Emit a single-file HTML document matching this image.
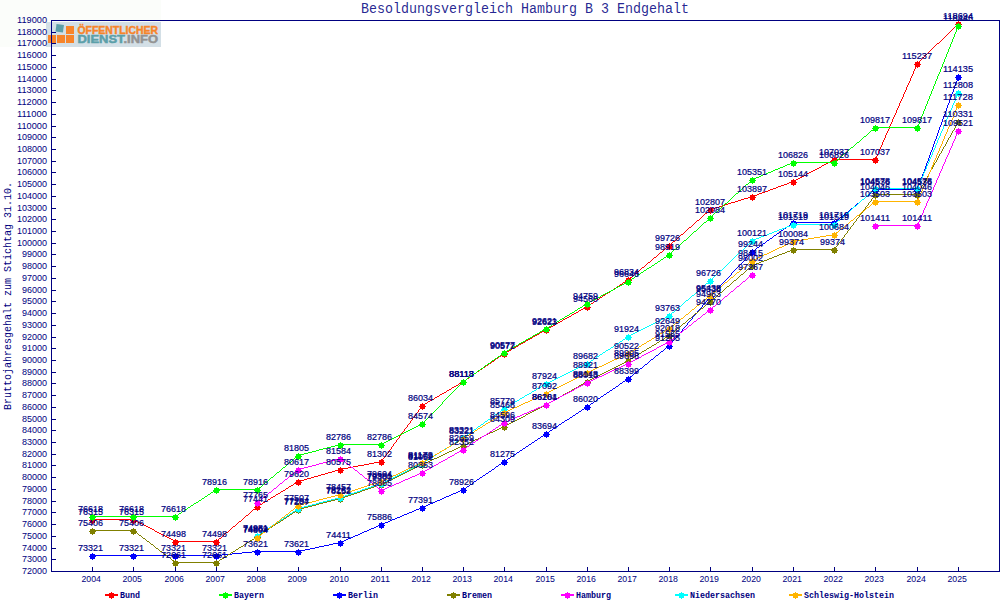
<!DOCTYPE html>
<html><head><meta charset="utf-8"><title>Besoldungsvergleich Hamburg B 3 Endgehalt</title>
<style>
html,body{margin:0;padding:0;background:#fff;width:1000px;height:600px;overflow:hidden}
svg{display:block}
.dl{font-family:'Liberation Sans', Arial, sans-serif;font-size:8.8px;fill:#000080;stroke:#000080;stroke-width:0.2px}
.tl{font-family:'Liberation Sans', Arial, sans-serif;font-size:8.8px;fill:#000080}
.lg{font-family:'Liberation Mono','DejaVu Sans Mono',monospace;font-size:9.4px;font-weight:bold;fill:#000080}
</style></head><body>
<svg width="1000" height="600" viewBox="0 0 1000 600">

<rect x="0" y="0" width="1000" height="600" fill="#fff"/>
<rect x="0" y="0" width="161" height="47" fill="#fbfdfa"/>
<g id="logo">
<rect x="46" y="22" width="115" height="25" fill="#d3dfe6"/>
<rect x="48" y="35" width="8" height="8" fill="#f7842a"/>
<rect x="57" y="35" width="8" height="8" fill="#f7842a"/>
<rect x="66" y="35" width="8" height="8" fill="#f7842a"/>
<rect x="66" y="26" width="8" height="8" fill="#f7842a"/>
<rect x="56" y="24.5" width="7.5" height="7.5" fill="#5b9fa9" transform="rotate(8 60 28)"/>
<text x="77.5" y="33.6" font-family="'Liberation Sans', sans-serif" font-weight="bold" font-size="10.4" fill="#f7842a" stroke="#f7842a" stroke-width="0.45" textLength="80.5" lengthAdjust="spacingAndGlyphs">ÖFFENTLICHER</text>
<text x="77.5" y="42.8" font-family="'Liberation Sans', sans-serif" font-weight="bold" font-size="10.2" stroke-width="0.45" textLength="80.5" lengthAdjust="spacingAndGlyphs"><tspan fill="#5b9fa9" stroke="#5b9fa9">DIENST</tspan><tspan fill="#939393" stroke="#939393">.INFO</tspan></text>
</g>
<path fill="#ff0000" shape-rendering="crispEdges" d="M958 23h1v1h-1zM957 24h1v1h-1zM956 25h1v1h-1zM955 26h1v1h-1zM954 27h1v1h-1zM953 28h1v1h-1zM952 29h1v1h-1zM951 30h1v1h-1zM950 31h1v1h-1zM949 32h1v1h-1zM948 33h1v1h-1zM947 34h1v1h-1zM946 35h1v1h-1zM945 36h1v1h-1zM944 37h1v1h-1zM943 38h1v1h-1zM942 39h1v1h-1zM941 40h1v1h-1zM940 41h1v1h-1zM939 42h1v1h-1zM937 43h2v1h-2zM936 44h1v1h-1zM935 45h1v1h-1zM934 46h1v1h-1zM933 47h1v1h-1zM932 48h1v1h-1zM931 49h1v1h-1zM930 50h1v1h-1zM929 51h1v1h-1zM928 52h1v1h-1zM927 53h1v1h-1zM926 54h1v1h-1zM925 55h1v1h-1zM924 56h1v1h-1zM923 57h1v1h-1zM922 58h1v1h-1zM921 59h1v1h-1zM920 60h1v1h-1zM919 61h1v1h-1zM918 62h1v1h-1zM917 63h1v1h-1zM917 64h1v1h-1zM916 65h1v1h-1zM916 66h1v1h-1zM915 67h1v1h-1zM915 68h1v1h-1zM914 69h1v1h-1zM914 70h1v1h-1zM913 71h1v1h-1zM913 72h1v1h-1zM913 73h1v1h-1zM912 74h1v1h-1zM912 75h1v1h-1zM911 76h1v1h-1zM911 77h1v1h-1zM910 78h1v1h-1zM910 79h1v1h-1zM910 80h1v1h-1zM909 81h1v1h-1zM909 82h1v1h-1zM908 83h1v1h-1zM908 84h1v1h-1zM907 85h1v1h-1zM907 86h1v1h-1zM906 87h1v1h-1zM906 88h1v1h-1zM906 89h1v1h-1zM905 90h1v1h-1zM905 91h1v1h-1zM904 92h1v1h-1zM904 93h1v1h-1zM903 94h1v1h-1zM903 95h1v1h-1zM903 96h1v1h-1zM902 97h1v1h-1zM902 98h1v1h-1zM901 99h1v1h-1zM901 100h1v1h-1zM900 101h1v1h-1zM900 102h1v1h-1zM899 103h1v1h-1zM899 104h1v1h-1zM899 105h1v1h-1zM898 106h1v1h-1zM898 107h1v1h-1zM897 108h1v1h-1zM897 109h1v1h-1zM896 110h1v1h-1zM896 111h1v1h-1zM896 112h1v1h-1zM895 113h1v1h-1zM895 114h1v1h-1zM894 115h1v1h-1zM894 116h1v1h-1zM893 117h1v1h-1zM893 118h1v1h-1zM892 119h1v1h-1zM892 120h1v1h-1zM892 121h1v1h-1zM891 122h1v1h-1zM891 123h1v1h-1zM890 124h1v1h-1zM890 125h1v1h-1zM889 126h1v1h-1zM889 127h1v1h-1zM889 128h1v1h-1zM888 129h1v1h-1zM888 130h1v1h-1zM887 131h1v1h-1zM887 132h1v1h-1zM886 133h1v1h-1zM886 134h1v1h-1zM885 135h1v1h-1zM885 136h1v1h-1zM885 137h1v1h-1zM884 138h1v1h-1zM884 139h1v1h-1zM883 140h1v1h-1zM883 141h1v1h-1zM882 142h1v1h-1zM882 143h1v1h-1zM882 144h1v1h-1zM881 145h1v1h-1zM881 146h1v1h-1zM880 147h1v1h-1zM880 148h1v1h-1zM879 149h1v1h-1zM879 150h1v1h-1zM878 151h1v1h-1zM878 152h1v1h-1zM878 153h1v1h-1zM877 154h1v1h-1zM877 155h1v1h-1zM876 156h1v1h-1zM876 157h1v1h-1zM875 158h1v1h-1zM834 159h42v1h-42zM832 160h2v1h-2zM830 161h2v1h-2zM828 162h2v1h-2zM826 163h2v1h-2zM824 164h2v1h-2zM822 165h2v1h-2zM821 166h1v1h-1zM819 167h2v1h-2zM817 168h2v1h-2zM815 169h2v1h-2zM813 170h2v1h-2zM811 171h2v1h-2zM809 172h2v1h-2zM807 173h2v1h-2zM806 174h1v1h-1zM804 175h2v1h-2zM802 176h2v1h-2zM800 177h2v1h-2zM798 178h2v1h-2zM796 179h2v1h-2zM794 180h2v1h-2zM792 181h2v1h-2zM789 182h3v1h-3zM787 183h2v1h-2zM784 184h3v1h-3zM781 185h3v1h-3zM778 186h3v1h-3zM776 187h2v1h-2zM773 188h3v1h-3zM770 189h3v1h-3zM768 190h2v1h-2zM765 191h3v1h-3zM762 192h3v1h-3zM759 193h3v1h-3zM757 194h2v1h-2zM754 195h3v1h-3zM751 196h3v1h-3zM748 197h3v1h-3zM744 198h4v1h-4zM741 199h3v1h-3zM738 200h3v1h-3zM735 201h3v1h-3zM731 202h4v1h-4zM728 203h3v1h-3zM725 204h3v1h-3zM722 205h3v1h-3zM719 206h3v1h-3zM715 207h4v1h-4zM712 208h3v1h-3zM710 209h2v1h-2zM709 210h1v1h-1zM708 211h1v1h-1zM707 212h1v1h-1zM705 213h2v1h-2zM704 214h1v1h-1zM703 215h1v1h-1zM702 216h1v1h-1zM701 217h1v1h-1zM700 218h1v1h-1zM699 219h1v1h-1zM697 220h2v1h-2zM696 221h1v1h-1zM695 222h1v1h-1zM694 223h1v1h-1zM693 224h1v1h-1zM692 225h1v1h-1zM691 226h1v1h-1zM689 227h2v1h-2zM688 228h1v1h-1zM687 229h1v1h-1zM686 230h1v1h-1zM685 231h1v1h-1zM684 232h1v1h-1zM683 233h1v1h-1zM681 234h2v1h-2zM680 235h1v1h-1zM679 236h1v1h-1zM678 237h1v1h-1zM677 238h1v1h-1zM676 239h1v1h-1zM675 240h1v1h-1zM673 241h2v1h-2zM672 242h1v1h-1zM671 243h1v1h-1zM670 244h1v1h-1zM669 245h1v1h-1zM668 246h1v1h-1zM666 247h2v1h-2zM665 248h1v1h-1zM664 249h1v1h-1zM663 250h1v1h-1zM662 251h1v1h-1zM660 252h2v1h-2zM659 253h1v1h-1zM658 254h1v1h-1zM657 255h1v1h-1zM656 256h1v1h-1zM654 257h2v1h-2zM653 258h1v1h-1zM652 259h1v1h-1zM651 260h1v1h-1zM650 261h1v1h-1zM648 262h2v1h-2zM647 263h1v1h-1zM646 264h1v1h-1zM645 265h1v1h-1zM644 266h1v1h-1zM642 267h2v1h-2zM641 268h1v1h-1zM640 269h1v1h-1zM639 270h1v1h-1zM638 271h1v1h-1zM636 272h2v1h-2zM635 273h1v1h-1zM634 274h1v1h-1zM633 275h1v1h-1zM632 276h1v1h-1zM630 277h2v1h-2zM629 278h1v1h-1zM628 279h1v1h-1zM626 280h2v1h-2zM625 281h1v1h-1zM623 282h2v1h-2zM622 283h1v1h-1zM620 284h2v1h-2zM619 285h1v1h-1zM617 286h2v1h-2zM616 287h1v1h-1zM614 288h2v1h-2zM613 289h1v1h-1zM611 290h2v1h-2zM610 291h1v1h-1zM608 292h2v1h-2zM606 293h2v1h-2zM605 294h1v1h-1zM603 295h2v1h-2zM602 296h1v1h-1zM600 297h2v1h-2zM599 298h1v1h-1zM597 299h2v1h-2zM596 300h1v1h-1zM594 301h2v1h-2zM593 302h1v1h-1zM591 303h2v1h-2zM590 304h1v1h-1zM588 305h2v1h-2zM587 306h1v1h-1zM585 307h2v1h-2zM583 308h2v1h-2zM581 309h2v1h-2zM579 310h2v1h-2zM578 311h1v1h-1zM576 312h2v1h-2zM574 313h2v1h-2zM572 314h2v1h-2zM571 315h1v1h-1zM569 316h2v1h-2zM567 317h2v1h-2zM565 318h2v1h-2zM563 319h2v1h-2zM562 320h1v1h-1zM560 321h2v1h-2zM558 322h2v1h-2zM556 323h2v1h-2zM555 324h1v1h-1zM553 325h2v1h-2zM551 326h2v1h-2zM549 327h2v1h-2zM547 328h2v1h-2zM546 329h1v1h-1zM544 330h2v1h-2zM542 331h2v1h-2zM540 332h2v1h-2zM539 333h1v1h-1zM537 334h2v1h-2zM535 335h2v1h-2zM533 336h2v1h-2zM532 337h1v1h-1zM530 338h2v1h-2zM528 339h2v1h-2zM526 340h2v1h-2zM525 341h1v1h-1zM523 342h2v1h-2zM521 343h2v1h-2zM519 344h2v1h-2zM518 345h1v1h-1zM516 346h2v1h-2zM514 347h2v1h-2zM512 348h2v1h-2zM511 349h1v1h-1zM509 350h2v1h-2zM507 351h2v1h-2zM505 352h2v1h-2zM504 353h1v1h-1zM502 354h2v1h-2zM501 355h1v1h-1zM499 356h2v1h-2zM498 357h1v1h-1zM496 358h2v1h-2zM495 359h1v1h-1zM494 360h1v1h-1zM492 361h2v1h-2zM491 362h1v1h-1zM489 363h2v1h-2zM488 364h1v1h-1zM486 365h2v1h-2zM485 366h1v1h-1zM483 367h2v1h-2zM482 368h1v1h-1zM480 369h2v1h-2zM479 370h1v1h-1zM477 371h2v1h-2zM476 372h1v1h-1zM474 373h2v1h-2zM473 374h1v1h-1zM472 375h1v1h-1zM470 376h2v1h-2zM469 377h1v1h-1zM467 378h2v1h-2zM466 379h1v1h-1zM464 380h2v1h-2zM463 381h1v1h-1zM461 382h2v1h-2zM459 383h2v1h-2zM458 384h1v1h-1zM456 385h2v1h-2zM454 386h2v1h-2zM452 387h2v1h-2zM451 388h1v1h-1zM449 389h2v1h-2zM447 390h2v1h-2zM446 391h1v1h-1zM444 392h2v1h-2zM442 393h2v1h-2zM440 394h2v1h-2zM439 395h1v1h-1zM437 396h2v1h-2zM435 397h2v1h-2zM434 398h1v1h-1zM432 399h2v1h-2zM430 400h2v1h-2zM428 401h2v1h-2zM427 402h1v1h-1zM425 403h2v1h-2zM423 404h2v1h-2zM422 405h1v1h-1zM421 406h1v1h-1zM421 407h1v1h-1zM420 408h1v1h-1zM419 409h1v1h-1zM418 410h1v1h-1zM418 411h1v1h-1zM417 412h1v1h-1zM416 413h1v1h-1zM415 414h1v1h-1zM415 415h1v1h-1zM414 416h1v1h-1zM413 417h1v1h-1zM412 418h1v1h-1zM412 419h1v1h-1zM411 420h1v1h-1zM410 421h1v1h-1zM410 422h1v1h-1zM409 423h1v1h-1zM408 424h1v1h-1zM407 425h1v1h-1zM407 426h1v1h-1zM406 427h1v1h-1zM405 428h1v1h-1zM404 429h1v1h-1zM404 430h1v1h-1zM403 431h1v1h-1zM402 432h1v1h-1zM401 433h1v1h-1zM401 434h1v1h-1zM400 435h1v1h-1zM399 436h1v1h-1zM399 437h1v1h-1zM398 438h1v1h-1zM397 439h1v1h-1zM396 440h1v1h-1zM396 441h1v1h-1zM395 442h1v1h-1zM394 443h1v1h-1zM393 444h1v1h-1zM393 445h1v1h-1zM392 446h1v1h-1zM391 447h1v1h-1zM391 448h1v1h-1zM390 449h1v1h-1zM389 450h1v1h-1zM388 451h1v1h-1zM388 452h1v1h-1zM387 453h1v1h-1zM386 454h1v1h-1zM385 455h1v1h-1zM385 456h1v1h-1zM384 457h1v1h-1zM383 458h1v1h-1zM382 459h1v1h-1zM382 460h1v1h-1zM379 461h3v1h-3zM374 462h5v1h-5zM369 463h5v1h-5zM364 464h5v1h-5zM358 465h6v1h-6zM353 466h5v1h-5zM348 467h5v1h-5zM343 468h5v1h-5zM339 469h4v1h-4zM335 470h4v1h-4zM332 471h3v1h-3zM328 472h4v1h-4zM325 473h3v1h-3zM321 474h4v1h-4zM318 475h3v1h-3zM314 476h4v1h-4zM311 477h3v1h-3zM307 478h4v1h-4zM304 479h3v1h-3zM300 480h4v1h-4zM298 481h2v1h-2zM296 482h2v1h-2zM294 483h2v1h-2zM293 484h1v1h-1zM291 485h2v1h-2zM289 486h2v1h-2zM288 487h1v1h-1zM286 488h2v1h-2zM285 489h1v1h-1zM283 490h2v1h-2zM281 491h2v1h-2zM280 492h1v1h-1zM278 493h2v1h-2zM276 494h2v1h-2zM275 495h1v1h-1zM273 496h2v1h-2zM271 497h2v1h-2zM270 498h1v1h-1zM268 499h2v1h-2zM267 500h1v1h-1zM265 501h2v1h-2zM263 502h2v1h-2zM262 503h1v1h-1zM260 504h2v1h-2zM258 505h2v1h-2zM257 506h1v1h-1zM256 507h1v1h-1zM255 508h1v1h-1zM253 509h2v1h-2zM252 510h1v1h-1zM251 511h1v1h-1zM250 512h1v1h-1zM249 513h1v1h-1zM248 514h1v1h-1zM246 515h2v1h-2zM245 516h1v1h-1zM244 517h1v1h-1zM243 518h1v1h-1zM92 519h42v1h-42zM242 519h1v1h-1zM134 520h2v1h-2zM241 520h1v1h-1zM136 521h2v1h-2zM239 521h2v1h-2zM138 522h2v1h-2zM238 522h1v1h-1zM140 523h2v1h-2zM237 523h1v1h-1zM142 524h2v1h-2zM236 524h1v1h-1zM144 525h2v1h-2zM235 525h1v1h-1zM146 526h2v1h-2zM233 526h2v1h-2zM148 527h2v1h-2zM232 527h1v1h-1zM150 528h2v1h-2zM231 528h1v1h-1zM152 529h2v1h-2zM230 529h1v1h-1zM154 530h1v1h-1zM229 530h1v1h-1zM155 531h2v1h-2zM228 531h1v1h-1zM157 532h2v1h-2zM226 532h2v1h-2zM159 533h2v1h-2zM225 533h1v1h-1zM161 534h2v1h-2zM224 534h1v1h-1zM163 535h2v1h-2zM223 535h1v1h-1zM165 536h2v1h-2zM222 536h1v1h-1zM167 537h2v1h-2zM221 537h1v1h-1zM169 538h2v1h-2zM219 538h2v1h-2zM171 539h2v1h-2zM218 539h1v1h-1zM173 540h2v1h-2zM217 540h1v1h-1zM175 541h42v1h-42z"/>
<path fill="#ff0000" shape-rendering="crispEdges" d="M92 517 93 517 93 518 95 518 95 520 96 520 96 521 95 521 95 523 93 523 93 524 92 524 92 523 90 523 90 521 89 521 89 520 90 520 90 518 92 518ZM133 517 134 517 134 518 136 518 136 520 137 520 137 521 136 521 136 523 134 523 134 524 133 524 133 523 131 523 131 521 130 521 130 520 131 520 131 518 133 518ZM175 539 176 539 176 540 178 540 178 542 179 542 179 543 178 543 178 545 176 545 176 546 175 546 175 545 173 545 173 543 172 543 172 542 173 542 173 540 175 540ZM216 539 217 539 217 540 219 540 219 542 220 542 220 543 219 543 219 545 217 545 217 546 216 546 216 545 214 545 214 543 213 543 213 542 214 542 214 540 216 540ZM257 504 258 504 258 505 260 505 260 507 261 507 261 508 260 508 260 510 258 510 258 511 257 511 257 510 255 510 255 508 254 508 254 507 255 507 255 505 257 505ZM298 479 299 479 299 480 301 480 301 482 302 482 302 483 301 483 301 485 299 485 299 486 298 486 298 485 296 485 296 483 295 483 295 482 296 482 296 480 298 480ZM340 467 341 467 341 468 343 468 343 470 344 470 344 471 343 471 343 473 341 473 341 474 340 474 340 473 338 473 338 471 337 471 337 470 338 470 338 468 340 468ZM381 459 382 459 382 460 384 460 384 462 385 462 385 463 384 463 384 465 382 465 382 466 381 466 381 465 379 465 379 463 378 463 378 462 379 462 379 460 381 460ZM422 403 423 403 423 404 425 404 425 406 426 406 426 407 425 407 425 409 423 409 423 410 422 410 422 409 420 409 420 407 419 407 419 406 420 406 420 404 422 404ZM463 379 464 379 464 380 466 380 466 382 467 382 467 383 466 383 466 385 464 385 464 386 463 386 463 385 461 385 461 383 460 383 460 382 461 382 461 380 463 380ZM504 351 505 351 505 352 507 352 507 354 508 354 508 355 507 355 507 357 505 357 505 358 504 358 504 357 502 357 502 355 501 355 501 354 502 354 502 352 504 352ZM546 327 547 327 547 328 549 328 549 330 550 330 550 331 549 331 549 333 547 333 547 334 546 334 546 333 544 333 544 331 543 331 543 330 544 330 544 328 546 328ZM587 304 588 304 588 305 590 305 590 307 591 307 591 308 590 308 590 310 588 310 588 311 587 311 587 310 585 310 585 308 584 308 584 307 585 307 585 305 587 305ZM628 277 629 277 629 278 631 278 631 280 632 280 632 281 631 281 631 283 629 283 629 284 628 284 628 283 626 283 626 281 625 281 625 280 626 280 626 278 628 278ZM669 243 670 243 670 244 672 244 672 246 673 246 673 247 672 247 672 249 670 249 670 250 669 250 669 249 667 249 667 247 666 247 666 246 667 246 667 244 669 244ZM710 207 711 207 711 208 713 208 713 210 714 210 714 211 713 211 713 213 711 213 711 214 710 214 710 213 708 213 708 211 707 211 707 210 708 210 708 208 710 208ZM752 194 753 194 753 195 755 195 755 197 756 197 756 198 755 198 755 200 753 200 753 201 752 201 752 200 750 200 750 198 749 198 749 197 750 197 750 195 752 195ZM793 179 794 179 794 180 796 180 796 182 797 182 797 183 796 183 796 185 794 185 794 186 793 186 793 185 791 185 791 183 790 183 790 182 791 182 791 180 793 180ZM834 157 835 157 835 158 837 158 837 160 838 160 838 161 837 161 837 163 835 163 835 164 834 164 834 163 832 163 832 161 831 161 831 160 832 160 832 158 834 158ZM875 157 876 157 876 158 878 158 878 160 879 160 879 161 878 161 878 163 876 163 876 164 875 164 875 163 873 163 873 161 872 161 872 160 873 160 873 158 875 158ZM917 61 918 61 918 62 920 62 920 64 921 64 921 65 920 65 920 67 918 67 918 68 917 68 917 67 915 67 915 65 914 65 914 64 915 64 915 62 917 62ZM958 21 959 21 959 22 961 22 961 24 962 24 962 25 961 25 961 27 959 27 959 28 958 28 958 27 956 27 956 25 955 25 955 24 956 24 956 22 958 22Z"/>
<path fill="#00ff00" shape-rendering="crispEdges" d="M958 25h1v1h-1zM958 26h1v1h-1zM957 27h1v1h-1zM957 28h1v1h-1zM956 29h1v1h-1zM956 30h1v1h-1zM956 31h1v1h-1zM955 32h1v1h-1zM955 33h1v1h-1zM954 34h1v1h-1zM954 35h1v1h-1zM954 36h1v1h-1zM953 37h1v1h-1zM953 38h1v1h-1zM952 39h1v1h-1zM952 40h1v1h-1zM952 41h1v1h-1zM951 42h1v1h-1zM951 43h1v1h-1zM950 44h1v1h-1zM950 45h1v1h-1zM950 46h1v1h-1zM949 47h1v1h-1zM949 48h1v1h-1zM948 49h1v1h-1zM948 50h1v1h-1zM948 51h1v1h-1zM947 52h1v1h-1zM947 53h1v1h-1zM946 54h1v1h-1zM946 55h1v1h-1zM946 56h1v1h-1zM945 57h1v1h-1zM945 58h1v1h-1zM944 59h1v1h-1zM944 60h1v1h-1zM944 61h1v1h-1zM943 62h1v1h-1zM943 63h1v1h-1zM942 64h1v1h-1zM942 65h1v1h-1zM942 66h1v1h-1zM941 67h1v1h-1zM941 68h1v1h-1zM940 69h1v1h-1zM940 70h1v1h-1zM940 71h1v1h-1zM939 72h1v1h-1zM939 73h1v1h-1zM938 74h1v1h-1zM938 75h1v1h-1zM937 76h1v1h-1zM937 77h1v1h-1zM937 78h1v1h-1zM936 79h1v1h-1zM936 80h1v1h-1zM935 81h1v1h-1zM935 82h1v1h-1zM935 83h1v1h-1zM934 84h1v1h-1zM934 85h1v1h-1zM933 86h1v1h-1zM933 87h1v1h-1zM933 88h1v1h-1zM932 89h1v1h-1zM932 90h1v1h-1zM931 91h1v1h-1zM931 92h1v1h-1zM931 93h1v1h-1zM930 94h1v1h-1zM930 95h1v1h-1zM929 96h1v1h-1zM929 97h1v1h-1zM929 98h1v1h-1zM928 99h1v1h-1zM928 100h1v1h-1zM927 101h1v1h-1zM927 102h1v1h-1zM927 103h1v1h-1zM926 104h1v1h-1zM926 105h1v1h-1zM925 106h1v1h-1zM925 107h1v1h-1zM925 108h1v1h-1zM924 109h1v1h-1zM924 110h1v1h-1zM923 111h1v1h-1zM923 112h1v1h-1zM923 113h1v1h-1zM922 114h1v1h-1zM922 115h1v1h-1zM921 116h1v1h-1zM921 117h1v1h-1zM921 118h1v1h-1zM920 119h1v1h-1zM920 120h1v1h-1zM919 121h1v1h-1zM919 122h1v1h-1zM919 123h1v1h-1zM918 124h1v1h-1zM918 125h1v1h-1zM917 126h1v1h-1zM875 127h43v1h-43zM874 128h1v1h-1zM873 129h1v1h-1zM871 130h2v1h-2zM870 131h1v1h-1zM869 132h1v1h-1zM868 133h1v1h-1zM867 134h1v1h-1zM866 135h1v1h-1zM864 136h2v1h-2zM863 137h1v1h-1zM862 138h1v1h-1zM861 139h1v1h-1zM860 140h1v1h-1zM859 141h1v1h-1zM857 142h2v1h-2zM856 143h1v1h-1zM855 144h1v1h-1zM854 145h1v1h-1zM853 146h1v1h-1zM851 147h2v1h-2zM850 148h1v1h-1zM849 149h1v1h-1zM848 150h1v1h-1zM847 151h1v1h-1zM846 152h1v1h-1zM844 153h2v1h-2zM843 154h1v1h-1zM842 155h1v1h-1zM841 156h1v1h-1zM840 157h1v1h-1zM839 158h1v1h-1zM837 159h2v1h-2zM836 160h1v1h-1zM835 161h1v1h-1zM792 162h43v1h-43zM790 163h2v1h-2zM787 164h3v1h-3zM785 165h2v1h-2zM783 166h2v1h-2zM780 167h3v1h-3zM778 168h2v1h-2zM775 169h3v1h-3zM773 170h2v1h-2zM771 171h2v1h-2zM768 172h3v1h-3zM766 173h2v1h-2zM763 174h3v1h-3zM761 175h2v1h-2zM759 176h2v1h-2zM756 177h3v1h-3zM754 178h2v1h-2zM752 179h2v1h-2zM751 180h1v1h-1zM750 181h1v1h-1zM749 182h1v1h-1zM748 183h1v1h-1zM746 184h2v1h-2zM745 185h1v1h-1zM744 186h1v1h-1zM743 187h1v1h-1zM742 188h1v1h-1zM741 189h1v1h-1zM740 190h1v1h-1zM739 191h1v1h-1zM738 192h1v1h-1zM736 193h2v1h-2zM735 194h1v1h-1zM734 195h1v1h-1zM733 196h1v1h-1zM732 197h1v1h-1zM731 198h1v1h-1zM730 199h1v1h-1zM729 200h1v1h-1zM728 201h1v1h-1zM727 202h1v1h-1zM725 203h2v1h-2zM724 204h1v1h-1zM723 205h1v1h-1zM722 206h1v1h-1zM721 207h1v1h-1zM720 208h1v1h-1zM719 209h1v1h-1zM718 210h1v1h-1zM717 211h1v1h-1zM715 212h2v1h-2zM714 213h1v1h-1zM713 214h1v1h-1zM712 215h1v1h-1zM711 216h1v1h-1zM710 217h1v1h-1zM709 218h1v1h-1zM708 219h1v1h-1zM707 220h1v1h-1zM706 221h1v1h-1zM704 222h2v1h-2zM703 223h1v1h-1zM702 224h1v1h-1zM701 225h1v1h-1zM700 226h1v1h-1zM699 227h1v1h-1zM698 228h1v1h-1zM697 229h1v1h-1zM696 230h1v1h-1zM694 231h2v1h-2zM693 232h1v1h-1zM692 233h1v1h-1zM691 234h1v1h-1zM690 235h1v1h-1zM689 236h1v1h-1zM688 237h1v1h-1zM687 238h1v1h-1zM686 239h1v1h-1zM684 240h2v1h-2zM683 241h1v1h-1zM682 242h1v1h-1zM681 243h1v1h-1zM680 244h1v1h-1zM679 245h1v1h-1zM678 246h1v1h-1zM677 247h1v1h-1zM676 248h1v1h-1zM674 249h2v1h-2zM673 250h1v1h-1zM672 251h1v1h-1zM671 252h1v1h-1zM670 253h1v1h-1zM669 254h1v1h-1zM667 255h2v1h-2zM666 256h1v1h-1zM664 257h2v1h-2zM663 258h1v1h-1zM661 259h2v1h-2zM660 260h1v1h-1zM658 261h2v1h-2zM657 262h1v1h-1zM655 263h2v1h-2zM654 264h1v1h-1zM652 265h2v1h-2zM651 266h1v1h-1zM649 267h2v1h-2zM647 268h2v1h-2zM646 269h1v1h-1zM644 270h2v1h-2zM643 271h1v1h-1zM641 272h2v1h-2zM640 273h1v1h-1zM638 274h2v1h-2zM637 275h1v1h-1zM635 276h2v1h-2zM634 277h1v1h-1zM632 278h2v1h-2zM631 279h1v1h-1zM629 280h2v1h-2zM628 281h1v1h-1zM626 282h2v1h-2zM624 283h2v1h-2zM622 284h2v1h-2zM620 285h2v1h-2zM618 286h2v1h-2zM616 287h2v1h-2zM615 288h1v1h-1zM613 289h2v1h-2zM611 290h2v1h-2zM609 291h2v1h-2zM607 292h2v1h-2zM605 293h2v1h-2zM603 294h2v1h-2zM601 295h2v1h-2zM600 296h1v1h-1zM598 297h2v1h-2zM596 298h2v1h-2zM594 299h2v1h-2zM592 300h2v1h-2zM590 301h2v1h-2zM588 302h2v1h-2zM587 303h1v1h-1zM585 304h2v1h-2zM583 305h2v1h-2zM582 306h1v1h-1zM580 307h2v1h-2zM578 308h2v1h-2zM577 309h1v1h-1zM575 310h2v1h-2zM574 311h1v1h-1zM572 312h2v1h-2zM570 313h2v1h-2zM569 314h1v1h-1zM567 315h2v1h-2zM565 316h2v1h-2zM564 317h1v1h-1zM562 318h2v1h-2zM560 319h2v1h-2zM559 320h1v1h-1zM557 321h2v1h-2zM556 322h1v1h-1zM554 323h2v1h-2zM552 324h2v1h-2zM551 325h1v1h-1zM549 326h2v1h-2zM547 327h2v1h-2zM546 328h1v1h-1zM544 329h2v1h-2zM542 330h2v1h-2zM540 331h2v1h-2zM539 332h1v1h-1zM537 333h2v1h-2zM535 334h2v1h-2zM533 335h2v1h-2zM532 336h1v1h-1zM530 337h2v1h-2zM528 338h2v1h-2zM526 339h2v1h-2zM525 340h1v1h-1zM523 341h2v1h-2zM521 342h2v1h-2zM519 343h2v1h-2zM518 344h1v1h-1zM516 345h2v1h-2zM514 346h2v1h-2zM512 347h2v1h-2zM511 348h1v1h-1zM509 349h2v1h-2zM507 350h2v1h-2zM505 351h2v1h-2zM504 352h1v1h-1zM502 353h2v1h-2zM501 354h1v1h-1zM500 355h1v1h-1zM498 356h2v1h-2zM497 357h1v1h-1zM495 358h2v1h-2zM494 359h1v1h-1zM492 360h2v1h-2zM491 361h1v1h-1zM490 362h1v1h-1zM488 363h2v1h-2zM487 364h1v1h-1zM485 365h2v1h-2zM484 366h1v1h-1zM483 367h1v1h-1zM481 368h2v1h-2zM480 369h1v1h-1zM478 370h2v1h-2zM477 371h1v1h-1zM476 372h1v1h-1zM474 373h2v1h-2zM473 374h1v1h-1zM471 375h2v1h-2zM470 376h1v1h-1zM468 377h2v1h-2zM467 378h1v1h-1zM466 379h1v1h-1zM464 380h2v1h-2zM463 381h1v1h-1zM462 382h1v1h-1zM461 383h1v1h-1zM460 384h1v1h-1zM459 385h1v1h-1zM458 386h1v1h-1zM457 387h1v1h-1zM456 388h1v1h-1zM455 389h1v1h-1zM454 390h1v1h-1zM453 391h1v1h-1zM452 392h1v1h-1zM451 393h1v1h-1zM450 394h1v1h-1zM449 395h1v1h-1zM448 396h1v1h-1zM447 397h1v1h-1zM446 398h1v1h-1zM445 399h1v1h-1zM444 400h1v1h-1zM443 401h1v1h-1zM442 402h1v1h-1zM442 403h1v1h-1zM441 404h1v1h-1zM440 405h1v1h-1zM439 406h1v1h-1zM438 407h1v1h-1zM437 408h1v1h-1zM436 409h1v1h-1zM435 410h1v1h-1zM434 411h1v1h-1zM433 412h1v1h-1zM432 413h1v1h-1zM431 414h1v1h-1zM430 415h1v1h-1zM429 416h1v1h-1zM428 417h1v1h-1zM427 418h1v1h-1zM426 419h1v1h-1zM425 420h1v1h-1zM424 421h1v1h-1zM423 422h1v1h-1zM422 423h1v1h-1zM420 424h2v1h-2zM418 425h2v1h-2zM416 426h2v1h-2zM414 427h2v1h-2zM412 428h2v1h-2zM410 429h2v1h-2zM408 430h2v1h-2zM406 431h2v1h-2zM404 432h2v1h-2zM402 433h2v1h-2zM400 434h2v1h-2zM398 435h2v1h-2zM396 436h2v1h-2zM394 437h2v1h-2zM392 438h2v1h-2zM390 439h2v1h-2zM388 440h2v1h-2zM386 441h2v1h-2zM384 442h2v1h-2zM382 443h2v1h-2zM339 444h43v1h-43zM335 445h4v1h-4zM331 446h4v1h-4zM327 447h4v1h-4zM323 448h4v1h-4zM319 449h4v1h-4zM316 450h3v1h-3zM312 451h4v1h-4zM308 452h4v1h-4zM304 453h4v1h-4zM300 454h4v1h-4zM298 455h2v1h-2zM297 456h1v1h-1zM295 457h2v1h-2zM294 458h1v1h-1zM293 459h1v1h-1zM292 460h1v1h-1zM291 461h1v1h-1zM289 462h2v1h-2zM288 463h1v1h-1zM287 464h1v1h-1zM286 465h1v1h-1zM285 466h1v1h-1zM283 467h2v1h-2zM282 468h1v1h-1zM281 469h1v1h-1zM280 470h1v1h-1zM279 471h1v1h-1zM277 472h2v1h-2zM276 473h1v1h-1zM275 474h1v1h-1zM274 475h1v1h-1zM273 476h1v1h-1zM271 477h2v1h-2zM270 478h1v1h-1zM269 479h1v1h-1zM268 480h1v1h-1zM267 481h1v1h-1zM265 482h2v1h-2zM264 483h1v1h-1zM263 484h1v1h-1zM262 485h1v1h-1zM261 486h1v1h-1zM259 487h2v1h-2zM258 488h1v1h-1zM216 489h42v1h-42zM214 490h2v1h-2zM213 491h1v1h-1zM211 492h2v1h-2zM210 493h1v1h-1zM208 494h2v1h-2zM207 495h1v1h-1zM205 496h2v1h-2zM204 497h1v1h-1zM202 498h2v1h-2zM201 499h1v1h-1zM199 500h2v1h-2zM198 501h1v1h-1zM196 502h2v1h-2zM194 503h2v1h-2zM193 504h1v1h-1zM191 505h2v1h-2zM190 506h1v1h-1zM188 507h2v1h-2zM187 508h1v1h-1zM185 509h2v1h-2zM184 510h1v1h-1zM182 511h2v1h-2zM181 512h1v1h-1zM179 513h2v1h-2zM178 514h1v1h-1zM176 515h2v1h-2zM92 516h84v1h-84z"/>
<path fill="#00ff00" shape-rendering="crispEdges" d="M92 514 93 514 93 515 95 515 95 517 96 517 96 518 95 518 95 520 93 520 93 521 92 521 92 520 90 520 90 518 89 518 89 517 90 517 90 515 92 515ZM133 514 134 514 134 515 136 515 136 517 137 517 137 518 136 518 136 520 134 520 134 521 133 521 133 520 131 520 131 518 130 518 130 517 131 517 131 515 133 515ZM175 514 176 514 176 515 178 515 178 517 179 517 179 518 178 518 178 520 176 520 176 521 175 521 175 520 173 520 173 518 172 518 172 517 173 517 173 515 175 515ZM216 487 217 487 217 488 219 488 219 490 220 490 220 491 219 491 219 493 217 493 217 494 216 494 216 493 214 493 214 491 213 491 213 490 214 490 214 488 216 488ZM257 487 258 487 258 488 260 488 260 490 261 490 261 491 260 491 260 493 258 493 258 494 257 494 257 493 255 493 255 491 254 491 254 490 255 490 255 488 257 488ZM298 453 299 453 299 454 301 454 301 456 302 456 302 457 301 457 301 459 299 459 299 460 298 460 298 459 296 459 296 457 295 457 295 456 296 456 296 454 298 454ZM340 442 341 442 341 443 343 443 343 445 344 445 344 446 343 446 343 448 341 448 341 449 340 449 340 448 338 448 338 446 337 446 337 445 338 445 338 443 340 443ZM381 442 382 442 382 443 384 443 384 445 385 445 385 446 384 446 384 448 382 448 382 449 381 449 381 448 379 448 379 446 378 446 378 445 379 445 379 443 381 443ZM422 421 423 421 423 422 425 422 425 424 426 424 426 425 425 425 425 427 423 427 423 428 422 428 422 427 420 427 420 425 419 425 419 424 420 424 420 422 422 422ZM463 379 464 379 464 380 466 380 466 382 467 382 467 383 466 383 466 385 464 385 464 386 463 386 463 385 461 385 461 383 460 383 460 382 461 382 461 380 463 380ZM504 350 505 350 505 351 507 351 507 353 508 353 508 354 507 354 507 356 505 356 505 357 504 357 504 356 502 356 502 354 501 354 501 353 502 353 502 351 504 351ZM546 326 547 326 547 327 549 327 549 329 550 329 550 330 549 330 549 332 547 332 547 333 546 333 546 332 544 332 544 330 543 330 543 329 544 329 544 327 546 327ZM587 301 588 301 588 302 590 302 590 304 591 304 591 305 590 305 590 307 588 307 588 308 587 308 587 307 585 307 585 305 584 305 584 304 585 304 585 302 587 302ZM628 279 629 279 629 280 631 280 631 282 632 282 632 283 631 283 631 285 629 285 629 286 628 286 628 285 626 285 626 283 625 283 625 282 626 282 626 280 628 280ZM669 252 670 252 670 253 672 253 672 255 673 255 673 256 672 256 672 258 670 258 670 259 669 259 669 258 667 258 667 256 666 256 666 255 667 255 667 253 669 253ZM710 215 711 215 711 216 713 216 713 218 714 218 714 219 713 219 713 221 711 221 711 222 710 222 710 221 708 221 708 219 707 219 707 218 708 218 708 216 710 216ZM752 177 753 177 753 178 755 178 755 180 756 180 756 181 755 181 755 183 753 183 753 184 752 184 752 183 750 183 750 181 749 181 749 180 750 180 750 178 752 178ZM793 160 794 160 794 161 796 161 796 163 797 163 797 164 796 164 796 166 794 166 794 167 793 167 793 166 791 166 791 164 790 164 790 163 791 163 791 161 793 161ZM834 160 835 160 835 161 837 161 837 163 838 163 838 164 837 164 837 166 835 166 835 167 834 167 834 166 832 166 832 164 831 164 831 163 832 163 832 161 834 161ZM875 125 876 125 876 126 878 126 878 128 879 128 879 129 878 129 878 131 876 131 876 132 875 132 875 131 873 131 873 129 872 129 872 128 873 128 873 126 875 126ZM917 125 918 125 918 126 920 126 920 128 921 128 921 129 920 129 920 131 918 131 918 132 917 132 917 131 915 131 915 129 914 129 914 128 915 128 915 126 917 126ZM958 23 959 23 959 24 961 24 961 26 962 26 962 27 961 27 961 29 959 29 959 30 958 30 958 29 956 29 956 27 955 27 955 26 956 26 956 24 958 24Z"/>
<path fill="#0000ff" shape-rendering="crispEdges" d="M958 76h1v1h-1zM958 77h1v1h-1zM957 78h1v1h-1zM957 79h1v1h-1zM957 80h1v1h-1zM956 81h1v1h-1zM956 82h1v1h-1zM955 83h1v1h-1zM955 84h1v1h-1zM955 85h1v1h-1zM954 86h1v1h-1zM954 87h1v1h-1zM954 88h1v1h-1zM953 89h1v1h-1zM953 90h1v1h-1zM953 91h1v1h-1zM952 92h1v1h-1zM952 93h1v1h-1zM951 94h1v1h-1zM951 95h1v1h-1zM951 96h1v1h-1zM950 97h1v1h-1zM950 98h1v1h-1zM950 99h1v1h-1zM949 100h1v1h-1zM949 101h1v1h-1zM949 102h1v1h-1zM948 103h1v1h-1zM948 104h1v1h-1zM947 105h1v1h-1zM947 106h1v1h-1zM947 107h1v1h-1zM946 108h1v1h-1zM946 109h1v1h-1zM946 110h1v1h-1zM945 111h1v1h-1zM945 112h1v1h-1zM945 113h1v1h-1zM944 114h1v1h-1zM944 115h1v1h-1zM943 116h1v1h-1zM943 117h1v1h-1zM943 118h1v1h-1zM942 119h1v1h-1zM942 120h1v1h-1zM942 121h1v1h-1zM941 122h1v1h-1zM941 123h1v1h-1zM941 124h1v1h-1zM940 125h1v1h-1zM940 126h1v1h-1zM939 127h1v1h-1zM939 128h1v1h-1zM939 129h1v1h-1zM938 130h1v1h-1zM938 131h1v1h-1zM938 132h1v1h-1zM937 133h1v1h-1zM937 134h1v1h-1zM937 135h1v1h-1zM936 136h1v1h-1zM936 137h1v1h-1zM936 138h1v1h-1zM935 139h1v1h-1zM935 140h1v1h-1zM934 141h1v1h-1zM934 142h1v1h-1zM934 143h1v1h-1zM933 144h1v1h-1zM933 145h1v1h-1zM933 146h1v1h-1zM932 147h1v1h-1zM932 148h1v1h-1zM932 149h1v1h-1zM931 150h1v1h-1zM931 151h1v1h-1zM930 152h1v1h-1zM930 153h1v1h-1zM930 154h1v1h-1zM929 155h1v1h-1zM929 156h1v1h-1zM929 157h1v1h-1zM928 158h1v1h-1zM928 159h1v1h-1zM928 160h1v1h-1zM927 161h1v1h-1zM927 162h1v1h-1zM926 163h1v1h-1zM926 164h1v1h-1zM926 165h1v1h-1zM925 166h1v1h-1zM925 167h1v1h-1zM925 168h1v1h-1zM924 169h1v1h-1zM924 170h1v1h-1zM924 171h1v1h-1zM923 172h1v1h-1zM923 173h1v1h-1zM922 174h1v1h-1zM922 175h1v1h-1zM922 176h1v1h-1zM921 177h1v1h-1zM921 178h1v1h-1zM921 179h1v1h-1zM920 180h1v1h-1zM920 181h1v1h-1zM920 182h1v1h-1zM919 183h1v1h-1zM919 184h1v1h-1zM918 185h1v1h-1zM918 186h1v1h-1zM918 187h1v1h-1zM917 188h1v1h-1zM875 189h43v1h-43zM874 190h1v1h-1zM872 191h2v1h-2zM871 192h1v1h-1zM870 193h1v1h-1zM869 194h1v1h-1zM867 195h2v1h-2zM866 196h1v1h-1zM865 197h1v1h-1zM864 198h1v1h-1zM862 199h2v1h-2zM861 200h1v1h-1zM860 201h1v1h-1zM859 202h1v1h-1zM857 203h2v1h-2zM856 204h1v1h-1zM855 205h1v1h-1zM854 206h1v1h-1zM853 207h1v1h-1zM851 208h2v1h-2zM850 209h1v1h-1zM849 210h1v1h-1zM848 211h1v1h-1zM846 212h2v1h-2zM845 213h1v1h-1zM844 214h1v1h-1zM843 215h1v1h-1zM841 216h2v1h-2zM840 217h1v1h-1zM839 218h1v1h-1zM838 219h1v1h-1zM836 220h2v1h-2zM835 221h1v1h-1zM793 222h42v1h-42zM791 223h2v1h-2zM790 224h1v1h-1zM789 225h1v1h-1zM787 226h2v1h-2zM786 227h1v1h-1zM784 228h2v1h-2zM783 229h1v1h-1zM781 230h2v1h-2zM780 231h1v1h-1zM779 232h1v1h-1zM777 233h2v1h-2zM776 234h1v1h-1zM774 235h2v1h-2zM773 236h1v1h-1zM772 237h1v1h-1zM770 238h2v1h-2zM769 239h1v1h-1zM767 240h2v1h-2zM766 241h1v1h-1zM765 242h1v1h-1zM763 243h2v1h-2zM762 244h1v1h-1zM760 245h2v1h-2zM759 246h1v1h-1zM757 247h2v1h-2zM756 248h1v1h-1zM755 249h1v1h-1zM753 250h2v1h-2zM752 251h1v1h-1zM751 252h1v1h-1zM750 253h1v1h-1zM749 254h1v1h-1zM748 255h1v1h-1zM747 256h1v1h-1zM746 257h1v1h-1zM745 258h1v1h-1zM745 259h1v1h-1zM744 260h1v1h-1zM743 261h1v1h-1zM742 262h1v1h-1zM741 263h1v1h-1zM740 264h1v1h-1zM739 265h1v1h-1zM738 266h1v1h-1zM737 267h1v1h-1zM736 268h1v1h-1zM735 269h1v1h-1zM734 270h1v1h-1zM733 271h1v1h-1zM732 272h1v1h-1zM731 273h1v1h-1zM731 274h1v1h-1zM730 275h1v1h-1zM729 276h1v1h-1zM728 277h1v1h-1zM727 278h1v1h-1zM726 279h1v1h-1zM725 280h1v1h-1zM724 281h1v1h-1zM723 282h1v1h-1zM722 283h1v1h-1zM721 284h1v1h-1zM720 285h1v1h-1zM719 286h1v1h-1zM718 287h1v1h-1zM717 288h1v1h-1zM717 289h1v1h-1zM716 290h1v1h-1zM715 291h1v1h-1zM714 292h1v1h-1zM713 293h1v1h-1zM712 294h1v1h-1zM711 295h1v1h-1zM710 296h1v1h-1zM709 297h1v1h-1zM708 298h1v1h-1zM707 299h1v1h-1zM707 300h1v1h-1zM706 301h1v1h-1zM705 302h1v1h-1zM704 303h1v1h-1zM703 304h1v1h-1zM702 305h1v1h-1zM702 306h1v1h-1zM701 307h1v1h-1zM700 308h1v1h-1zM699 309h1v1h-1zM698 310h1v1h-1zM697 311h1v1h-1zM697 312h1v1h-1zM696 313h1v1h-1zM695 314h1v1h-1zM694 315h1v1h-1zM693 316h1v1h-1zM692 317h1v1h-1zM692 318h1v1h-1zM691 319h1v1h-1zM690 320h1v1h-1zM689 321h1v1h-1zM688 322h1v1h-1zM687 323h1v1h-1zM687 324h1v1h-1zM686 325h1v1h-1zM685 326h1v1h-1zM684 327h1v1h-1zM683 328h1v1h-1zM682 329h1v1h-1zM682 330h1v1h-1zM681 331h1v1h-1zM680 332h1v1h-1zM679 333h1v1h-1zM678 334h1v1h-1zM677 335h1v1h-1zM677 336h1v1h-1zM676 337h1v1h-1zM675 338h1v1h-1zM674 339h1v1h-1zM673 340h1v1h-1zM672 341h1v1h-1zM672 342h1v1h-1zM671 343h1v1h-1zM670 344h1v1h-1zM669 345h1v1h-1zM668 346h1v1h-1zM666 347h2v1h-2zM665 348h1v1h-1zM664 349h1v1h-1zM663 350h1v1h-1zM661 351h2v1h-2zM660 352h1v1h-1zM659 353h1v1h-1zM658 354h1v1h-1zM656 355h2v1h-2zM655 356h1v1h-1zM654 357h1v1h-1zM653 358h1v1h-1zM651 359h2v1h-2zM650 360h1v1h-1zM649 361h1v1h-1zM648 362h1v1h-1zM647 363h1v1h-1zM645 364h2v1h-2zM644 365h1v1h-1zM643 366h1v1h-1zM642 367h1v1h-1zM640 368h2v1h-2zM639 369h1v1h-1zM638 370h1v1h-1zM637 371h1v1h-1zM635 372h2v1h-2zM634 373h1v1h-1zM633 374h1v1h-1zM632 375h1v1h-1zM630 376h2v1h-2zM629 377h1v1h-1zM628 378h1v1h-1zM626 379h2v1h-2zM625 380h1v1h-1zM623 381h2v1h-2zM622 382h1v1h-1zM620 383h2v1h-2zM619 384h1v1h-1zM618 385h1v1h-1zM616 386h2v1h-2zM615 387h1v1h-1zM613 388h2v1h-2zM612 389h1v1h-1zM610 390h2v1h-2zM609 391h1v1h-1zM607 392h2v1h-2zM606 393h1v1h-1zM604 394h2v1h-2zM603 395h1v1h-1zM601 396h2v1h-2zM600 397h1v1h-1zM598 398h2v1h-2zM597 399h1v1h-1zM596 400h1v1h-1zM594 401h2v1h-2zM593 402h1v1h-1zM591 403h2v1h-2zM590 404h1v1h-1zM588 405h2v1h-2zM587 406h1v1h-1zM585 407h2v1h-2zM584 408h1v1h-1zM582 409h2v1h-2zM581 410h1v1h-1zM579 411h2v1h-2zM578 412h1v1h-1zM576 413h2v1h-2zM575 414h1v1h-1zM573 415h2v1h-2zM572 416h1v1h-1zM570 417h2v1h-2zM569 418h1v1h-1zM567 419h2v1h-2zM565 420h2v1h-2zM564 421h1v1h-1zM562 422h2v1h-2zM561 423h1v1h-1zM559 424h2v1h-2zM558 425h1v1h-1zM556 426h2v1h-2zM555 427h1v1h-1zM553 428h2v1h-2zM552 429h1v1h-1zM550 430h2v1h-2zM549 431h1v1h-1zM547 432h2v1h-2zM546 433h1v1h-1zM544 434h2v1h-2zM543 435h1v1h-1zM541 436h2v1h-2zM540 437h1v1h-1zM538 438h2v1h-2zM537 439h1v1h-1zM535 440h2v1h-2zM534 441h1v1h-1zM532 442h2v1h-2zM531 443h1v1h-1zM529 444h2v1h-2zM528 445h1v1h-1zM526 446h2v1h-2zM525 447h1v1h-1zM523 448h2v1h-2zM522 449h1v1h-1zM520 450h2v1h-2zM519 451h1v1h-1zM517 452h2v1h-2zM516 453h1v1h-1zM514 454h2v1h-2zM513 455h1v1h-1zM511 456h2v1h-2zM510 457h1v1h-1zM508 458h2v1h-2zM507 459h1v1h-1zM505 460h2v1h-2zM504 461h1v1h-1zM502 462h2v1h-2zM501 463h1v1h-1zM499 464h2v1h-2zM498 465h1v1h-1zM496 466h2v1h-2zM495 467h1v1h-1zM494 468h1v1h-1zM492 469h2v1h-2zM491 470h1v1h-1zM489 471h2v1h-2zM488 472h1v1h-1zM486 473h2v1h-2zM485 474h1v1h-1zM483 475h2v1h-2zM482 476h1v1h-1zM480 477h2v1h-2zM479 478h1v1h-1zM477 479h2v1h-2zM476 480h1v1h-1zM474 481h2v1h-2zM473 482h1v1h-1zM472 483h1v1h-1zM470 484h2v1h-2zM469 485h1v1h-1zM467 486h2v1h-2zM466 487h1v1h-1zM464 488h2v1h-2zM462 489h2v1h-2zM460 490h2v1h-2zM458 491h2v1h-2zM456 492h2v1h-2zM453 493h3v1h-3zM451 494h2v1h-2zM449 495h2v1h-2zM446 496h3v1h-3zM444 497h2v1h-2zM442 498h2v1h-2zM440 499h2v1h-2zM437 500h3v1h-3zM435 501h2v1h-2zM433 502h2v1h-2zM430 503h3v1h-3zM428 504h2v1h-2zM426 505h2v1h-2zM424 506h2v1h-2zM421 507h3v1h-3zM419 508h2v1h-2zM416 509h3v1h-3zM414 510h2v1h-2zM412 511h2v1h-2zM409 512h3v1h-3zM407 513h2v1h-2zM404 514h3v1h-3zM402 515h2v1h-2zM400 516h2v1h-2zM397 517h3v1h-3zM395 518h2v1h-2zM392 519h3v1h-3zM390 520h2v1h-2zM388 521h2v1h-2zM385 522h3v1h-3zM383 523h2v1h-2zM380 524h3v1h-3zM378 525h2v1h-2zM376 526h2v1h-2zM374 527h2v1h-2zM371 528h3v1h-3zM369 529h2v1h-2zM367 530h2v1h-2zM364 531h3v1h-3zM362 532h2v1h-2zM360 533h2v1h-2zM358 534h2v1h-2zM355 535h3v1h-3zM353 536h2v1h-2zM351 537h2v1h-2zM348 538h3v1h-3zM346 539h2v1h-2zM344 540h2v1h-2zM342 541h2v1h-2zM338 542h4v1h-4zM333 543h5v1h-5zM329 544h4v1h-4zM324 545h5v1h-5zM319 546h5v1h-5zM315 547h4v1h-4zM310 548h5v1h-5zM305 549h5v1h-5zM301 550h4v1h-4zM252 551h49v1h-49zM242 552h10v1h-10zM232 553h10v1h-10zM222 554h10v1h-10zM92 555h130v1h-130z"/>
<path fill="#0000ff" shape-rendering="crispEdges" d="M92 553 93 553 93 554 95 554 95 556 96 556 96 557 95 557 95 559 93 559 93 560 92 560 92 559 90 559 90 557 89 557 89 556 90 556 90 554 92 554ZM133 553 134 553 134 554 136 554 136 556 137 556 137 557 136 557 136 559 134 559 134 560 133 560 133 559 131 559 131 557 130 557 130 556 131 556 131 554 133 554ZM175 553 176 553 176 554 178 554 178 556 179 556 179 557 178 557 178 559 176 559 176 560 175 560 175 559 173 559 173 557 172 557 172 556 173 556 173 554 175 554ZM216 553 217 553 217 554 219 554 219 556 220 556 220 557 219 557 219 559 217 559 217 560 216 560 216 559 214 559 214 557 213 557 213 556 214 556 214 554 216 554ZM257 549 258 549 258 550 260 550 260 552 261 552 261 553 260 553 260 555 258 555 258 556 257 556 257 555 255 555 255 553 254 553 254 552 255 552 255 550 257 550ZM298 549 299 549 299 550 301 550 301 552 302 552 302 553 301 553 301 555 299 555 299 556 298 556 298 555 296 555 296 553 295 553 295 552 296 552 296 550 298 550ZM340 540 341 540 341 541 343 541 343 543 344 543 344 544 343 544 343 546 341 546 341 547 340 547 340 546 338 546 338 544 337 544 337 543 338 543 338 541 340 541ZM381 522 382 522 382 523 384 523 384 525 385 525 385 526 384 526 384 528 382 528 382 529 381 529 381 528 379 528 379 526 378 526 378 525 379 525 379 523 381 523ZM422 505 423 505 423 506 425 506 425 508 426 508 426 509 425 509 425 511 423 511 423 512 422 512 422 511 420 511 420 509 419 509 419 508 420 508 420 506 422 506ZM463 487 464 487 464 488 466 488 466 490 467 490 467 491 466 491 466 493 464 493 464 494 463 494 463 493 461 493 461 491 460 491 460 490 461 490 461 488 463 488ZM504 459 505 459 505 460 507 460 507 462 508 462 508 463 507 463 507 465 505 465 505 466 504 466 504 465 502 465 502 463 501 463 501 462 502 462 502 460 504 460ZM546 431 547 431 547 432 549 432 549 434 550 434 550 435 549 435 549 437 547 437 547 438 546 438 546 437 544 437 544 435 543 435 543 434 544 434 544 432 546 432ZM587 404 588 404 588 405 590 405 590 407 591 407 591 408 590 408 590 410 588 410 588 411 587 411 587 410 585 410 585 408 584 408 584 407 585 407 585 405 587 405ZM628 376 629 376 629 377 631 377 631 379 632 379 632 380 631 380 631 382 629 382 629 383 628 383 628 382 626 382 626 380 625 380 625 379 626 379 626 377 628 377ZM669 343 670 343 670 344 672 344 672 346 673 346 673 347 672 347 672 349 670 349 670 350 669 350 669 349 667 349 667 347 666 347 666 346 667 346 667 344 669 344ZM710 294 711 294 711 295 713 295 713 297 714 297 714 298 713 298 713 300 711 300 711 301 710 301 710 300 708 300 708 298 707 298 707 297 708 297 708 295 710 295ZM752 249 753 249 753 250 755 250 755 252 756 252 756 253 755 253 755 255 753 255 753 256 752 256 752 255 750 255 750 253 749 253 749 252 750 252 750 250 752 250ZM793 220 794 220 794 221 796 221 796 223 797 223 797 224 796 224 796 226 794 226 794 227 793 227 793 226 791 226 791 224 790 224 790 223 791 223 791 221 793 221ZM834 220 835 220 835 221 837 221 837 223 838 223 838 224 837 224 837 226 835 226 835 227 834 227 834 226 832 226 832 224 831 224 831 223 832 223 832 221 834 221ZM875 187 876 187 876 188 878 188 878 190 879 190 879 191 878 191 878 193 876 193 876 194 875 194 875 193 873 193 873 191 872 191 872 190 873 190 873 188 875 188ZM917 187 918 187 918 188 920 188 920 190 921 190 921 191 920 191 920 193 918 193 918 194 917 194 917 193 915 193 915 191 914 191 914 190 915 190 915 188 917 188ZM958 74 959 74 959 75 961 75 961 77 962 77 962 78 961 78 961 80 959 80 959 81 958 81 958 80 956 80 956 78 955 78 955 77 956 77 956 75 958 75Z"/>
<path fill="#808000" shape-rendering="crispEdges" d="M958 121h1v1h-1zM957 122h1v1h-1zM957 123h1v1h-1zM956 124h1v1h-1zM956 125h1v1h-1zM955 126h1v1h-1zM955 127h1v1h-1zM954 128h1v1h-1zM954 129h1v1h-1zM953 130h1v1h-1zM952 131h1v1h-1zM952 132h1v1h-1zM951 133h1v1h-1zM951 134h1v1h-1zM950 135h1v1h-1zM950 136h1v1h-1zM949 137h1v1h-1zM948 138h1v1h-1zM948 139h1v1h-1zM947 140h1v1h-1zM947 141h1v1h-1zM946 142h1v1h-1zM946 143h1v1h-1zM945 144h1v1h-1zM945 145h1v1h-1zM944 146h1v1h-1zM943 147h1v1h-1zM943 148h1v1h-1zM942 149h1v1h-1zM942 150h1v1h-1zM941 151h1v1h-1zM941 152h1v1h-1zM940 153h1v1h-1zM939 154h1v1h-1zM939 155h1v1h-1zM938 156h1v1h-1zM938 157h1v1h-1zM937 158h1v1h-1zM937 159h1v1h-1zM936 160h1v1h-1zM936 161h1v1h-1zM935 162h1v1h-1zM934 163h1v1h-1zM934 164h1v1h-1zM933 165h1v1h-1zM933 166h1v1h-1zM932 167h1v1h-1zM932 168h1v1h-1zM931 169h1v1h-1zM930 170h1v1h-1zM930 171h1v1h-1zM929 172h1v1h-1zM929 173h1v1h-1zM928 174h1v1h-1zM928 175h1v1h-1zM927 176h1v1h-1zM927 177h1v1h-1zM926 178h1v1h-1zM925 179h1v1h-1zM925 180h1v1h-1zM924 181h1v1h-1zM924 182h1v1h-1zM923 183h1v1h-1zM923 184h1v1h-1zM922 185h1v1h-1zM921 186h1v1h-1zM921 187h1v1h-1zM920 188h1v1h-1zM920 189h1v1h-1zM919 190h1v1h-1zM919 191h1v1h-1zM918 192h1v1h-1zM918 193h1v1h-1zM875 194h43v1h-43zM874 195h1v1h-1zM874 196h1v1h-1zM873 197h1v1h-1zM872 198h1v1h-1zM871 199h1v1h-1zM871 200h1v1h-1zM870 201h1v1h-1zM869 202h1v1h-1zM868 203h1v1h-1zM868 204h1v1h-1zM867 205h1v1h-1zM866 206h1v1h-1zM865 207h1v1h-1zM865 208h1v1h-1zM864 209h1v1h-1zM863 210h1v1h-1zM862 211h1v1h-1zM862 212h1v1h-1zM861 213h1v1h-1zM860 214h1v1h-1zM859 215h1v1h-1zM859 216h1v1h-1zM858 217h1v1h-1zM857 218h1v1h-1zM856 219h1v1h-1zM856 220h1v1h-1zM855 221h1v1h-1zM854 222h1v1h-1zM853 223h1v1h-1zM853 224h1v1h-1zM852 225h1v1h-1zM851 226h1v1h-1zM850 227h1v1h-1zM850 228h1v1h-1zM849 229h1v1h-1zM848 230h1v1h-1zM847 231h1v1h-1zM847 232h1v1h-1zM846 233h1v1h-1zM845 234h1v1h-1zM844 235h1v1h-1zM844 236h1v1h-1zM843 237h1v1h-1zM842 238h1v1h-1zM841 239h1v1h-1zM841 240h1v1h-1zM840 241h1v1h-1zM839 242h1v1h-1zM838 243h1v1h-1zM838 244h1v1h-1zM837 245h1v1h-1zM836 246h1v1h-1zM835 247h1v1h-1zM835 248h1v1h-1zM792 249h43v1h-43zM790 250h2v1h-2zM787 251h3v1h-3zM785 252h2v1h-2zM782 253h3v1h-3zM779 254h3v1h-3zM777 255h2v1h-2zM774 256h3v1h-3zM772 257h2v1h-2zM769 258h3v1h-3zM767 259h2v1h-2zM764 260h3v1h-3zM761 261h3v1h-3zM759 262h2v1h-2zM756 263h3v1h-3zM754 264h2v1h-2zM752 265h2v1h-2zM751 266h1v1h-1zM750 267h1v1h-1zM748 268h2v1h-2zM747 269h1v1h-1zM746 270h1v1h-1zM745 271h1v1h-1zM744 272h1v1h-1zM743 273h1v1h-1zM741 274h2v1h-2zM740 275h1v1h-1zM739 276h1v1h-1zM738 277h1v1h-1zM737 278h1v1h-1zM736 279h1v1h-1zM734 280h2v1h-2zM733 281h1v1h-1zM732 282h1v1h-1zM731 283h1v1h-1zM730 284h1v1h-1zM729 285h1v1h-1zM727 286h2v1h-2zM726 287h1v1h-1zM725 288h1v1h-1zM724 289h1v1h-1zM723 290h1v1h-1zM722 291h1v1h-1zM720 292h2v1h-2zM719 293h1v1h-1zM718 294h1v1h-1zM717 295h1v1h-1zM716 296h1v1h-1zM715 297h1v1h-1zM713 298h2v1h-2zM712 299h1v1h-1zM711 300h1v1h-1zM710 301h1v1h-1zM709 302h1v1h-1zM707 303h2v1h-2zM706 304h1v1h-1zM705 305h1v1h-1zM704 306h1v1h-1zM703 307h1v1h-1zM701 308h2v1h-2zM700 309h1v1h-1zM699 310h1v1h-1zM698 311h1v1h-1zM697 312h1v1h-1zM695 313h2v1h-2zM694 314h1v1h-1zM693 315h1v1h-1zM692 316h1v1h-1zM691 317h1v1h-1zM689 318h2v1h-2zM688 319h1v1h-1zM687 320h1v1h-1zM686 321h1v1h-1zM685 322h1v1h-1zM683 323h2v1h-2zM682 324h1v1h-1zM681 325h1v1h-1zM680 326h1v1h-1zM679 327h1v1h-1zM677 328h2v1h-2zM676 329h1v1h-1zM675 330h1v1h-1zM674 331h1v1h-1zM673 332h1v1h-1zM671 333h2v1h-2zM670 334h1v1h-1zM669 335h1v1h-1zM667 336h2v1h-2zM665 337h2v1h-2zM664 338h1v1h-1zM662 339h2v1h-2zM660 340h2v1h-2zM659 341h1v1h-1zM657 342h2v1h-2zM656 343h1v1h-1zM654 344h2v1h-2zM652 345h2v1h-2zM651 346h1v1h-1zM649 347h2v1h-2zM647 348h2v1h-2zM646 349h1v1h-1zM644 350h2v1h-2zM642 351h2v1h-2zM641 352h1v1h-1zM639 353h2v1h-2zM638 354h1v1h-1zM636 355h2v1h-2zM634 356h2v1h-2zM633 357h1v1h-1zM631 358h2v1h-2zM629 359h2v1h-2zM628 360h1v1h-1zM626 361h2v1h-2zM624 362h2v1h-2zM622 363h2v1h-2zM620 364h2v1h-2zM618 365h2v1h-2zM616 366h2v1h-2zM614 367h2v1h-2zM612 368h2v1h-2zM610 369h2v1h-2zM608 370h2v1h-2zM606 371h2v1h-2zM604 372h2v1h-2zM602 373h2v1h-2zM600 374h2v1h-2zM598 375h2v1h-2zM596 376h2v1h-2zM594 377h2v1h-2zM592 378h2v1h-2zM590 379h2v1h-2zM588 380h2v1h-2zM587 381h1v1h-1zM585 382h2v1h-2zM583 383h2v1h-2zM581 384h2v1h-2zM579 385h2v1h-2zM578 386h1v1h-1zM576 387h2v1h-2zM574 388h2v1h-2zM572 389h2v1h-2zM571 390h1v1h-1zM569 391h2v1h-2zM567 392h2v1h-2zM565 393h2v1h-2zM563 394h2v1h-2zM562 395h1v1h-1zM560 396h2v1h-2zM558 397h2v1h-2zM556 398h2v1h-2zM555 399h1v1h-1zM553 400h2v1h-2zM551 401h2v1h-2zM549 402h2v1h-2zM547 403h2v1h-2zM546 404h1v1h-1zM544 405h2v1h-2zM542 406h2v1h-2zM540 407h2v1h-2zM538 408h2v1h-2zM536 409h2v1h-2zM534 410h2v1h-2zM532 411h2v1h-2zM530 412h2v1h-2zM528 413h2v1h-2zM526 414h2v1h-2zM525 415h1v1h-1zM523 416h2v1h-2zM521 417h2v1h-2zM519 418h2v1h-2zM517 419h2v1h-2zM515 420h2v1h-2zM513 421h2v1h-2zM511 422h2v1h-2zM509 423h2v1h-2zM507 424h2v1h-2zM505 425h2v1h-2zM503 426h2v1h-2zM501 427h2v1h-2zM499 428h2v1h-2zM497 429h2v1h-2zM495 430h2v1h-2zM493 431h2v1h-2zM490 432h3v1h-3zM488 433h2v1h-2zM486 434h2v1h-2zM484 435h2v1h-2zM482 436h2v1h-2zM480 437h2v1h-2zM478 438h2v1h-2zM475 439h3v1h-3zM473 440h2v1h-2zM471 441h2v1h-2zM469 442h2v1h-2zM467 443h2v1h-2zM465 444h2v1h-2zM462 445h3v1h-3zM460 446h2v1h-2zM458 447h2v1h-2zM456 448h2v1h-2zM454 449h2v1h-2zM452 450h2v1h-2zM449 451h3v1h-3zM447 452h2v1h-2zM445 453h2v1h-2zM443 454h2v1h-2zM441 455h2v1h-2zM439 456h2v1h-2zM437 457h2v1h-2zM434 458h3v1h-3zM432 459h2v1h-2zM430 460h2v1h-2zM428 461h2v1h-2zM426 462h2v1h-2zM424 463h2v1h-2zM421 464h3v1h-3zM419 465h2v1h-2zM417 466h2v1h-2zM415 467h2v1h-2zM413 468h2v1h-2zM411 469h2v1h-2zM409 470h2v1h-2zM407 471h2v1h-2zM405 472h2v1h-2zM403 473h2v1h-2zM401 474h2v1h-2zM399 475h2v1h-2zM397 476h2v1h-2zM395 477h2v1h-2zM393 478h2v1h-2zM391 479h2v1h-2zM389 480h2v1h-2zM387 481h2v1h-2zM385 482h2v1h-2zM383 483h2v1h-2zM380 484h3v1h-3zM377 485h3v1h-3zM374 486h3v1h-3zM371 487h3v1h-3zM368 488h3v1h-3zM365 489h3v1h-3zM362 490h3v1h-3zM360 491h2v1h-2zM357 492h3v1h-3zM354 493h3v1h-3zM351 494h3v1h-3zM348 495h3v1h-3zM345 496h3v1h-3zM342 497h3v1h-3zM339 498h3v1h-3zM335 499h4v1h-4zM331 500h4v1h-4zM327 501h4v1h-4zM323 502h4v1h-4zM319 503h4v1h-4zM316 504h3v1h-3zM312 505h4v1h-4zM308 506h4v1h-4zM304 507h4v1h-4zM300 508h4v1h-4zM298 509h2v1h-2zM296 510h2v1h-2zM295 511h1v1h-1zM293 512h2v1h-2zM292 513h1v1h-1zM290 514h2v1h-2zM289 515h1v1h-1zM287 516h2v1h-2zM286 517h1v1h-1zM284 518h2v1h-2zM283 519h1v1h-1zM281 520h2v1h-2zM280 521h1v1h-1zM278 522h2v1h-2zM276 523h2v1h-2zM275 524h1v1h-1zM273 525h2v1h-2zM272 526h1v1h-1zM270 527h2v1h-2zM269 528h1v1h-1zM267 529h2v1h-2zM92 530h42v1h-42zM266 530h1v1h-1zM134 531h1v1h-1zM264 531h2v1h-2zM135 532h2v1h-2zM263 532h1v1h-1zM137 533h1v1h-1zM261 533h2v1h-2zM138 534h1v1h-1zM260 534h1v1h-1zM139 535h2v1h-2zM258 535h2v1h-2zM141 536h1v1h-1zM257 536h1v1h-1zM142 537h1v1h-1zM255 537h2v1h-2zM143 538h2v1h-2zM254 538h1v1h-1zM145 539h1v1h-1zM252 539h2v1h-2zM146 540h1v1h-1zM250 540h2v1h-2zM147 541h2v1h-2zM249 541h1v1h-1zM149 542h1v1h-1zM247 542h2v1h-2zM150 543h1v1h-1zM246 543h1v1h-1zM151 544h2v1h-2zM244 544h2v1h-2zM153 545h1v1h-1zM243 545h1v1h-1zM154 546h1v1h-1zM241 546h2v1h-2zM155 547h1v1h-1zM239 547h2v1h-2zM156 548h2v1h-2zM238 548h1v1h-1zM158 549h1v1h-1zM236 549h2v1h-2zM159 550h1v1h-1zM235 550h1v1h-1zM160 551h2v1h-2zM233 551h2v1h-2zM162 552h1v1h-1zM231 552h2v1h-2zM163 553h1v1h-1zM230 553h1v1h-1zM164 554h2v1h-2zM228 554h2v1h-2zM166 555h1v1h-1zM227 555h1v1h-1zM167 556h1v1h-1zM225 556h2v1h-2zM168 557h2v1h-2zM224 557h1v1h-1zM170 558h1v1h-1zM222 558h2v1h-2zM171 559h1v1h-1zM220 559h2v1h-2zM172 560h2v1h-2zM219 560h1v1h-1zM174 561h1v1h-1zM217 561h2v1h-2zM175 562h42v1h-42z"/>
<path fill="#808000" shape-rendering="crispEdges" d="M92 528 93 528 93 529 95 529 95 531 96 531 96 532 95 532 95 534 93 534 93 535 92 535 92 534 90 534 90 532 89 532 89 531 90 531 90 529 92 529ZM133 528 134 528 134 529 136 529 136 531 137 531 137 532 136 532 136 534 134 534 134 535 133 535 133 534 131 534 131 532 130 532 130 531 131 531 131 529 133 529ZM175 560 176 560 176 561 178 561 178 563 179 563 179 564 178 564 178 566 176 566 176 567 175 567 175 566 173 566 173 564 172 564 172 563 173 563 173 561 175 561ZM216 560 217 560 217 561 219 561 219 563 220 563 220 564 219 564 219 566 217 566 217 567 216 567 216 566 214 566 214 564 213 564 213 563 214 563 214 561 216 561ZM257 534 258 534 258 535 260 535 260 537 261 537 261 538 260 538 260 540 258 540 258 541 257 541 257 540 255 540 255 538 254 538 254 537 255 537 255 535 257 535ZM298 507 299 507 299 508 301 508 301 510 302 510 302 511 301 511 301 513 299 513 299 514 298 514 298 513 296 513 296 511 295 511 295 510 296 510 296 508 298 508ZM340 496 341 496 341 497 343 497 343 499 344 499 344 500 343 500 343 502 341 502 341 503 340 503 340 502 338 502 338 500 337 500 337 499 338 499 338 497 340 497ZM381 482 382 482 382 483 384 483 384 485 385 485 385 486 384 486 384 488 382 488 382 489 381 489 381 488 379 488 379 486 378 486 378 485 379 485 379 483 381 483ZM422 462 423 462 423 463 425 463 425 465 426 465 426 466 425 466 425 468 423 468 423 469 422 469 422 468 420 468 420 466 419 466 419 465 420 465 420 463 422 463ZM463 443 464 443 464 444 466 444 466 446 467 446 467 447 466 447 466 449 464 449 464 450 463 450 463 449 461 449 461 447 460 447 460 446 461 446 461 444 463 444ZM504 424 505 424 505 425 507 425 507 427 508 427 508 428 507 428 507 430 505 430 505 431 504 431 504 430 502 430 502 428 501 428 501 427 502 427 502 425 504 425ZM546 402 547 402 547 403 549 403 549 405 550 405 550 406 549 406 549 408 547 408 547 409 546 409 546 408 544 408 544 406 543 406 543 405 544 405 544 403 546 403ZM587 379 588 379 588 380 590 380 590 382 591 382 591 383 590 383 590 385 588 385 588 386 587 386 587 385 585 385 585 383 584 383 584 382 585 382 585 380 587 380ZM628 358 629 358 629 359 631 359 631 361 632 361 632 362 631 362 631 364 629 364 629 365 628 365 628 364 626 364 626 362 625 362 625 361 626 361 626 359 628 359ZM669 333 670 333 670 334 672 334 672 336 673 336 673 337 672 337 672 339 670 339 670 340 669 340 669 339 667 339 667 337 666 337 666 336 667 336 667 334 669 334ZM710 299 711 299 711 300 713 300 713 302 714 302 714 303 713 303 713 305 711 305 711 306 710 306 710 305 708 305 708 303 707 303 707 302 708 302 708 300 710 300ZM752 263 753 263 753 264 755 264 755 266 756 266 756 267 755 267 755 269 753 269 753 270 752 270 752 269 750 269 750 267 749 267 749 266 750 266 750 264 752 264ZM793 247 794 247 794 248 796 248 796 250 797 250 797 251 796 251 796 253 794 253 794 254 793 254 793 253 791 253 791 251 790 251 790 250 791 250 791 248 793 248ZM834 247 835 247 835 248 837 248 837 250 838 250 838 251 837 251 837 253 835 253 835 254 834 254 834 253 832 253 832 251 831 251 831 250 832 250 832 248 834 248ZM875 192 876 192 876 193 878 193 878 195 879 195 879 196 878 196 878 198 876 198 876 199 875 199 875 198 873 198 873 196 872 196 872 195 873 195 873 193 875 193ZM917 192 918 192 918 193 920 193 920 195 921 195 921 196 920 196 920 198 918 198 918 199 917 199 917 198 915 198 915 196 914 196 914 195 915 195 915 193 917 193ZM958 119 959 119 959 120 961 120 961 122 962 122 962 123 961 123 961 125 959 125 959 126 958 126 958 125 956 125 956 123 955 123 955 122 956 122 956 120 958 120Z"/>
<path fill="#ff00ff" shape-rendering="crispEdges" d="M958 130h1v1h-1zM958 131h1v1h-1zM957 132h1v1h-1zM957 133h1v1h-1zM956 134h1v1h-1zM956 135h1v1h-1zM955 136h1v1h-1zM955 137h1v1h-1zM955 138h1v1h-1zM954 139h1v1h-1zM954 140h1v1h-1zM953 141h1v1h-1zM953 142h1v1h-1zM952 143h1v1h-1zM952 144h1v1h-1zM952 145h1v1h-1zM951 146h1v1h-1zM951 147h1v1h-1zM950 148h1v1h-1zM950 149h1v1h-1zM949 150h1v1h-1zM949 151h1v1h-1zM949 152h1v1h-1zM948 153h1v1h-1zM948 154h1v1h-1zM947 155h1v1h-1zM947 156h1v1h-1zM946 157h1v1h-1zM946 158h1v1h-1zM945 159h1v1h-1zM945 160h1v1h-1zM945 161h1v1h-1zM944 162h1v1h-1zM944 163h1v1h-1zM943 164h1v1h-1zM943 165h1v1h-1zM942 166h1v1h-1zM942 167h1v1h-1zM942 168h1v1h-1zM941 169h1v1h-1zM941 170h1v1h-1zM940 171h1v1h-1zM940 172h1v1h-1zM939 173h1v1h-1zM939 174h1v1h-1zM939 175h1v1h-1zM938 176h1v1h-1zM938 177h1v1h-1zM937 178h1v1h-1zM937 179h1v1h-1zM936 180h1v1h-1zM936 181h1v1h-1zM936 182h1v1h-1zM935 183h1v1h-1zM935 184h1v1h-1zM934 185h1v1h-1zM934 186h1v1h-1zM933 187h1v1h-1zM933 188h1v1h-1zM933 189h1v1h-1zM932 190h1v1h-1zM932 191h1v1h-1zM931 192h1v1h-1zM931 193h1v1h-1zM930 194h1v1h-1zM930 195h1v1h-1zM930 196h1v1h-1zM929 197h1v1h-1zM929 198h1v1h-1zM928 199h1v1h-1zM928 200h1v1h-1zM927 201h1v1h-1zM927 202h1v1h-1zM926 203h1v1h-1zM926 204h1v1h-1zM926 205h1v1h-1zM925 206h1v1h-1zM925 207h1v1h-1zM924 208h1v1h-1zM924 209h1v1h-1zM923 210h1v1h-1zM923 211h1v1h-1zM923 212h1v1h-1zM922 213h1v1h-1zM922 214h1v1h-1zM921 215h1v1h-1zM921 216h1v1h-1zM920 217h1v1h-1zM920 218h1v1h-1zM920 219h1v1h-1zM919 220h1v1h-1zM919 221h1v1h-1zM918 222h1v1h-1zM918 223h1v1h-1zM917 224h1v1h-1zM875 225h43v1h-43zM752 274h1v1h-1zM751 275h1v1h-1zM749 276h2v1h-2zM748 277h1v1h-1zM747 278h1v1h-1zM746 279h1v1h-1zM745 280h1v1h-1zM743 281h2v1h-2zM742 282h1v1h-1zM741 283h1v1h-1zM740 284h1v1h-1zM739 285h1v1h-1zM737 286h2v1h-2zM736 287h1v1h-1zM735 288h1v1h-1zM734 289h1v1h-1zM733 290h1v1h-1zM731 291h2v1h-2zM730 292h1v1h-1zM729 293h1v1h-1zM728 294h1v1h-1zM727 295h1v1h-1zM725 296h2v1h-2zM724 297h1v1h-1zM723 298h1v1h-1zM722 299h1v1h-1zM721 300h1v1h-1zM719 301h2v1h-2zM718 302h1v1h-1zM717 303h1v1h-1zM716 304h1v1h-1zM715 305h1v1h-1zM713 306h2v1h-2zM712 307h1v1h-1zM711 308h1v1h-1zM710 309h1v1h-1zM709 310h1v1h-1zM707 311h2v1h-2zM706 312h1v1h-1zM705 313h1v1h-1zM703 314h2v1h-2zM702 315h1v1h-1zM701 316h1v1h-1zM700 317h1v1h-1zM698 318h2v1h-2zM697 319h1v1h-1zM696 320h1v1h-1zM694 321h2v1h-2zM693 322h1v1h-1zM692 323h1v1h-1zM691 324h1v1h-1zM689 325h2v1h-2zM688 326h1v1h-1zM687 327h1v1h-1zM686 328h1v1h-1zM684 329h2v1h-2zM683 330h1v1h-1zM682 331h1v1h-1zM680 332h2v1h-2zM679 333h1v1h-1zM678 334h1v1h-1zM677 335h1v1h-1zM675 336h2v1h-2zM674 337h1v1h-1zM673 338h1v1h-1zM671 339h2v1h-2zM670 340h1v1h-1zM669 341h1v1h-1zM667 342h2v1h-2zM665 343h2v1h-2zM663 344h2v1h-2zM661 345h2v1h-2zM659 346h2v1h-2zM657 347h2v1h-2zM656 348h1v1h-1zM654 349h2v1h-2zM652 350h2v1h-2zM650 351h2v1h-2zM648 352h2v1h-2zM646 353h2v1h-2zM644 354h2v1h-2zM642 355h2v1h-2zM641 356h1v1h-1zM639 357h2v1h-2zM637 358h2v1h-2zM635 359h2v1h-2zM633 360h2v1h-2zM631 361h2v1h-2zM629 362h2v1h-2zM627 363h2v1h-2zM625 364h2v1h-2zM623 365h2v1h-2zM621 366h2v1h-2zM619 367h2v1h-2zM617 368h2v1h-2zM614 369h3v1h-3zM612 370h2v1h-2zM610 371h2v1h-2zM608 372h2v1h-2zM606 373h2v1h-2zM604 374h2v1h-2zM602 375h2v1h-2zM599 376h3v1h-3zM597 377h2v1h-2zM595 378h2v1h-2zM593 379h2v1h-2zM591 380h2v1h-2zM589 381h2v1h-2zM587 382h2v1h-2zM585 383h2v1h-2zM583 384h2v1h-2zM581 385h2v1h-2zM579 386h2v1h-2zM577 387h2v1h-2zM575 388h2v1h-2zM574 389h1v1h-1zM572 390h2v1h-2zM570 391h2v1h-2zM568 392h2v1h-2zM566 393h2v1h-2zM564 394h2v1h-2zM562 395h2v1h-2zM560 396h2v1h-2zM559 397h1v1h-1zM557 398h2v1h-2zM555 399h2v1h-2zM553 400h2v1h-2zM551 401h2v1h-2zM549 402h2v1h-2zM547 403h2v1h-2zM545 404h2v1h-2zM543 405h2v1h-2zM541 406h2v1h-2zM538 407h3v1h-3zM536 408h2v1h-2zM534 409h2v1h-2zM531 410h3v1h-3zM529 411h2v1h-2zM527 412h2v1h-2zM524 413h3v1h-3zM522 414h2v1h-2zM520 415h2v1h-2zM517 416h3v1h-3zM515 417h2v1h-2zM513 418h2v1h-2zM510 419h3v1h-3zM508 420h2v1h-2zM506 421h2v1h-2zM504 422h2v1h-2zM502 423h2v1h-2zM501 424h1v1h-1zM499 425h2v1h-2zM498 426h1v1h-1zM496 427h2v1h-2zM495 428h1v1h-1zM493 429h2v1h-2zM492 430h1v1h-1zM490 431h2v1h-2zM489 432h1v1h-1zM487 433h2v1h-2zM486 434h1v1h-1zM484 435h2v1h-2zM482 436h2v1h-2zM481 437h1v1h-1zM479 438h2v1h-2zM478 439h1v1h-1zM476 440h2v1h-2zM475 441h1v1h-1zM473 442h2v1h-2zM472 443h1v1h-1zM470 444h2v1h-2zM469 445h1v1h-1zM467 446h2v1h-2zM466 447h1v1h-1zM464 448h2v1h-2zM463 449h1v1h-1zM461 450h2v1h-2zM459 451h2v1h-2zM457 452h2v1h-2zM455 453h2v1h-2zM454 454h1v1h-1zM452 455h2v1h-2zM450 456h2v1h-2zM448 457h2v1h-2zM339 458h2v1h-2zM447 458h1v1h-1zM335 459h4v1h-4zM341 459h1v1h-1zM445 459h2v1h-2zM331 460h4v1h-4zM342 460h2v1h-2zM443 460h2v1h-2zM327 461h4v1h-4zM344 461h1v1h-1zM441 461h2v1h-2zM323 462h4v1h-4zM345 462h1v1h-1zM439 462h2v1h-2zM319 463h4v1h-4zM346 463h2v1h-2zM438 463h1v1h-1zM316 464h3v1h-3zM348 464h1v1h-1zM436 464h2v1h-2zM312 465h4v1h-4zM349 465h1v1h-1zM434 465h2v1h-2zM308 466h4v1h-4zM350 466h1v1h-1zM432 466h2v1h-2zM304 467h4v1h-4zM351 467h2v1h-2zM431 467h1v1h-1zM300 468h4v1h-4zM353 468h1v1h-1zM429 468h2v1h-2zM298 469h2v1h-2zM354 469h1v1h-1zM427 469h2v1h-2zM297 470h1v1h-1zM355 470h2v1h-2zM425 470h2v1h-2zM295 471h2v1h-2zM357 471h1v1h-1zM423 471h2v1h-2zM294 472h1v1h-1zM358 472h1v1h-1zM421 472h2v1h-2zM293 473h1v1h-1zM359 473h1v1h-1zM419 473h2v1h-2zM292 474h1v1h-1zM360 474h2v1h-2zM417 474h2v1h-2zM290 475h2v1h-2zM362 475h1v1h-1zM415 475h2v1h-2zM289 476h1v1h-1zM363 476h1v1h-1zM412 476h3v1h-3zM288 477h1v1h-1zM364 477h1v1h-1zM410 477h2v1h-2zM287 478h1v1h-1zM365 478h2v1h-2zM408 478h2v1h-2zM285 479h2v1h-2zM367 479h1v1h-1zM405 479h3v1h-3zM284 480h1v1h-1zM368 480h1v1h-1zM403 480h2v1h-2zM283 481h1v1h-1zM369 481h2v1h-2zM401 481h2v1h-2zM282 482h1v1h-1zM371 482h1v1h-1zM399 482h2v1h-2zM280 483h2v1h-2zM372 483h1v1h-1zM396 483h3v1h-3zM279 484h1v1h-1zM373 484h1v1h-1zM394 484h2v1h-2zM278 485h1v1h-1zM374 485h2v1h-2zM392 485h2v1h-2zM277 486h1v1h-1zM376 486h1v1h-1zM389 486h3v1h-3zM276 487h1v1h-1zM377 487h1v1h-1zM387 487h2v1h-2zM274 488h2v1h-2zM378 488h2v1h-2zM385 488h2v1h-2zM273 489h1v1h-1zM380 489h1v1h-1zM383 489h2v1h-2zM272 490h1v1h-1zM381 490h2v1h-2zM271 491h1v1h-1zM269 492h2v1h-2zM268 493h1v1h-1zM267 494h1v1h-1zM266 495h1v1h-1zM264 496h2v1h-2zM263 497h1v1h-1zM262 498h1v1h-1zM261 499h1v1h-1zM259 500h2v1h-2zM258 501h1v1h-1zM257 502h1v1h-1z"/>
<path fill="#ff00ff" shape-rendering="crispEdges" d="M257 500 258 500 258 501 260 501 260 503 261 503 261 504 260 504 260 506 258 506 258 507 257 507 257 506 255 506 255 504 254 504 254 503 255 503 255 501 257 501ZM298 467 299 467 299 468 301 468 301 470 302 470 302 471 301 471 301 473 299 473 299 474 298 474 298 473 296 473 296 471 295 471 295 470 296 470 296 468 298 468ZM340 456 341 456 341 457 343 457 343 459 344 459 344 460 343 460 343 462 341 462 341 463 340 463 340 462 338 462 338 460 337 460 337 459 338 459 338 457 340 457ZM381 488 382 488 382 489 384 489 384 491 385 491 385 492 384 492 384 494 382 494 382 495 381 495 381 494 379 494 379 492 378 492 378 491 379 491 379 489 381 489ZM422 470 423 470 423 471 425 471 425 473 426 473 426 474 425 474 425 476 423 476 423 477 422 477 422 476 420 476 420 474 419 474 419 473 420 473 420 471 422 471ZM463 447 464 447 464 448 466 448 466 450 467 450 467 451 466 451 466 453 464 453 464 454 463 454 463 453 461 453 461 451 460 451 460 450 461 450 461 448 463 448ZM504 420 505 420 505 421 507 421 507 423 508 423 508 424 507 424 507 426 505 426 505 427 504 427 504 426 502 426 502 424 501 424 501 423 502 423 502 421 504 421ZM546 402 547 402 547 403 549 403 549 405 550 405 550 406 549 406 549 408 547 408 547 409 546 409 546 408 544 408 544 406 543 406 543 405 544 405 544 403 546 403ZM587 380 588 380 588 381 590 381 590 383 591 383 591 384 590 384 590 386 588 386 588 387 587 387 587 386 585 386 585 384 584 384 584 383 585 383 585 381 587 381ZM628 361 629 361 629 362 631 362 631 364 632 364 632 365 631 365 631 367 629 367 629 368 628 368 628 367 626 367 626 365 625 365 625 364 626 364 626 362 628 362ZM669 339 670 339 670 340 672 340 672 342 673 342 673 343 672 343 672 345 670 345 670 346 669 346 669 345 667 345 667 343 666 343 666 342 667 342 667 340 669 340ZM710 307 711 307 711 308 713 308 713 310 714 310 714 311 713 311 713 313 711 313 711 314 710 314 710 313 708 313 708 311 707 311 707 310 708 310 708 308 710 308ZM752 272 753 272 753 273 755 273 755 275 756 275 756 276 755 276 755 278 753 278 753 279 752 279 752 278 750 278 750 276 749 276 749 275 750 275 750 273 752 273ZM875 223 876 223 876 224 878 224 878 226 879 226 879 227 878 227 878 229 876 229 876 230 875 230 875 229 873 229 873 227 872 227 872 226 873 226 873 224 875 224ZM917 223 918 223 918 224 920 224 920 226 921 226 921 227 920 227 920 229 918 229 918 230 917 230 917 229 915 229 915 227 914 227 914 226 915 226 915 224 917 224ZM958 128 959 128 959 129 961 129 961 131 962 131 962 132 961 132 961 134 959 134 959 135 958 135 958 134 956 134 956 132 955 132 955 131 956 131 956 129 958 129Z"/>
<path fill="#00ffff" shape-rendering="crispEdges" d="M958 92h1v1h-1zM958 93h1v1h-1zM957 94h1v1h-1zM957 95h1v1h-1zM956 96h1v1h-1zM956 97h1v1h-1zM955 98h1v1h-1zM955 99h1v1h-1zM955 100h1v1h-1zM954 101h1v1h-1zM954 102h1v1h-1zM953 103h1v1h-1zM953 104h1v1h-1zM952 105h1v1h-1zM952 106h1v1h-1zM952 107h1v1h-1zM951 108h1v1h-1zM951 109h1v1h-1zM950 110h1v1h-1zM950 111h1v1h-1zM949 112h1v1h-1zM949 113h1v1h-1zM949 114h1v1h-1zM948 115h1v1h-1zM948 116h1v1h-1zM947 117h1v1h-1zM947 118h1v1h-1zM946 119h1v1h-1zM946 120h1v1h-1zM946 121h1v1h-1zM945 122h1v1h-1zM945 123h1v1h-1zM944 124h1v1h-1zM944 125h1v1h-1zM943 126h1v1h-1zM943 127h1v1h-1zM943 128h1v1h-1zM942 129h1v1h-1zM942 130h1v1h-1zM941 131h1v1h-1zM941 132h1v1h-1zM940 133h1v1h-1zM940 134h1v1h-1zM940 135h1v1h-1zM939 136h1v1h-1zM939 137h1v1h-1zM938 138h1v1h-1zM938 139h1v1h-1zM937 140h1v1h-1zM937 141h1v1h-1zM937 142h1v1h-1zM936 143h1v1h-1zM936 144h1v1h-1zM935 145h1v1h-1zM935 146h1v1h-1zM935 147h1v1h-1zM934 148h1v1h-1zM934 149h1v1h-1zM933 150h1v1h-1zM933 151h1v1h-1zM932 152h1v1h-1zM932 153h1v1h-1zM932 154h1v1h-1zM931 155h1v1h-1zM931 156h1v1h-1zM930 157h1v1h-1zM930 158h1v1h-1zM929 159h1v1h-1zM929 160h1v1h-1zM929 161h1v1h-1zM928 162h1v1h-1zM928 163h1v1h-1zM927 164h1v1h-1zM927 165h1v1h-1zM926 166h1v1h-1zM926 167h1v1h-1zM926 168h1v1h-1zM925 169h1v1h-1zM925 170h1v1h-1zM924 171h1v1h-1zM924 172h1v1h-1zM923 173h1v1h-1zM923 174h1v1h-1zM923 175h1v1h-1zM922 176h1v1h-1zM922 177h1v1h-1zM921 178h1v1h-1zM921 179h1v1h-1zM920 180h1v1h-1zM920 181h1v1h-1zM920 182h1v1h-1zM919 183h1v1h-1zM919 184h1v1h-1zM918 185h1v1h-1zM918 186h1v1h-1zM917 187h1v1h-1zM875 188h43v1h-43zM874 189h1v1h-1zM873 190h1v1h-1zM872 191h1v1h-1zM870 192h2v1h-2zM869 193h1v1h-1zM868 194h1v1h-1zM867 195h1v1h-1zM866 196h1v1h-1zM865 197h1v1h-1zM864 198h1v1h-1zM862 199h2v1h-2zM861 200h1v1h-1zM860 201h1v1h-1zM859 202h1v1h-1zM858 203h1v1h-1zM857 204h1v1h-1zM856 205h1v1h-1zM854 206h2v1h-2zM853 207h1v1h-1zM852 208h1v1h-1zM851 209h1v1h-1zM850 210h1v1h-1zM849 211h1v1h-1zM848 212h1v1h-1zM846 213h2v1h-2zM845 214h1v1h-1zM844 215h1v1h-1zM843 216h1v1h-1zM842 217h1v1h-1zM841 218h1v1h-1zM840 219h1v1h-1zM838 220h2v1h-2zM837 221h1v1h-1zM836 222h1v1h-1zM835 223h1v1h-1zM792 224h43v1h-43zM790 225h2v1h-2zM787 226h3v1h-3zM785 227h2v1h-2zM782 228h3v1h-3zM779 229h3v1h-3zM777 230h2v1h-2zM774 231h3v1h-3zM772 232h2v1h-2zM769 233h3v1h-3zM767 234h2v1h-2zM764 235h3v1h-3zM761 236h3v1h-3zM759 237h2v1h-2zM756 238h3v1h-3zM754 239h2v1h-2zM752 240h2v1h-2zM751 241h1v1h-1zM750 242h1v1h-1zM749 243h1v1h-1zM748 244h1v1h-1zM747 245h1v1h-1zM746 246h1v1h-1zM745 247h1v1h-1zM744 248h1v1h-1zM743 249h1v1h-1zM741 250h2v1h-2zM740 251h1v1h-1zM739 252h1v1h-1zM738 253h1v1h-1zM737 254h1v1h-1zM736 255h1v1h-1zM735 256h1v1h-1zM734 257h1v1h-1zM733 258h1v1h-1zM732 259h1v1h-1zM731 260h1v1h-1zM730 261h1v1h-1zM729 262h1v1h-1zM728 263h1v1h-1zM727 264h1v1h-1zM726 265h1v1h-1zM725 266h1v1h-1zM724 267h1v1h-1zM723 268h1v1h-1zM722 269h1v1h-1zM720 270h2v1h-2zM719 271h1v1h-1zM718 272h1v1h-1zM717 273h1v1h-1zM716 274h1v1h-1zM715 275h1v1h-1zM714 276h1v1h-1zM713 277h1v1h-1zM712 278h1v1h-1zM711 279h1v1h-1zM710 280h1v1h-1zM709 281h1v1h-1zM708 282h1v1h-1zM706 283h2v1h-2zM705 284h1v1h-1zM704 285h1v1h-1zM703 286h1v1h-1zM702 287h1v1h-1zM701 288h1v1h-1zM699 289h2v1h-2zM698 290h1v1h-1zM697 291h1v1h-1zM696 292h1v1h-1zM695 293h1v1h-1zM694 294h1v1h-1zM692 295h2v1h-2zM691 296h1v1h-1zM690 297h1v1h-1zM689 298h1v1h-1zM688 299h1v1h-1zM686 300h2v1h-2zM685 301h1v1h-1zM684 302h1v1h-1zM683 303h1v1h-1zM682 304h1v1h-1zM681 305h1v1h-1zM679 306h2v1h-2zM678 307h1v1h-1zM677 308h1v1h-1zM676 309h1v1h-1zM675 310h1v1h-1zM674 311h1v1h-1zM672 312h2v1h-2zM671 313h1v1h-1zM670 314h1v1h-1zM669 315h1v1h-1zM667 316h2v1h-2zM665 317h2v1h-2zM663 318h2v1h-2zM661 319h2v1h-2zM659 320h2v1h-2zM657 321h2v1h-2zM655 322h2v1h-2zM653 323h2v1h-2zM651 324h2v1h-2zM649 325h2v1h-2zM647 326h2v1h-2zM645 327h2v1h-2zM643 328h2v1h-2zM641 329h2v1h-2zM639 330h2v1h-2zM637 331h2v1h-2zM635 332h2v1h-2zM633 333h2v1h-2zM631 334h2v1h-2zM629 335h2v1h-2zM628 336h1v1h-1zM626 337h2v1h-2zM625 338h1v1h-1zM623 339h2v1h-2zM622 340h1v1h-1zM620 341h2v1h-2zM619 342h1v1h-1zM617 343h2v1h-2zM616 344h1v1h-1zM614 345h2v1h-2zM613 346h1v1h-1zM611 347h2v1h-2zM610 348h1v1h-1zM608 349h2v1h-2zM606 350h2v1h-2zM605 351h1v1h-1zM603 352h2v1h-2zM602 353h1v1h-1zM600 354h2v1h-2zM599 355h1v1h-1zM597 356h2v1h-2zM596 357h1v1h-1zM594 358h2v1h-2zM593 359h1v1h-1zM591 360h2v1h-2zM590 361h1v1h-1zM588 362h2v1h-2zM586 363h2v1h-2zM584 364h2v1h-2zM582 365h2v1h-2zM580 366h2v1h-2zM578 367h2v1h-2zM576 368h2v1h-2zM574 369h2v1h-2zM572 370h2v1h-2zM570 371h2v1h-2zM568 372h2v1h-2zM566 373h2v1h-2zM564 374h2v1h-2zM562 375h2v1h-2zM560 376h2v1h-2zM558 377h2v1h-2zM556 378h2v1h-2zM554 379h2v1h-2zM552 380h2v1h-2zM550 381h2v1h-2zM548 382h2v1h-2zM546 383h2v1h-2zM544 384h2v1h-2zM542 385h2v1h-2zM541 386h1v1h-1zM539 387h2v1h-2zM537 388h2v1h-2zM536 389h1v1h-1zM534 390h2v1h-2zM532 391h2v1h-2zM531 392h1v1h-1zM529 393h2v1h-2zM527 394h2v1h-2zM525 395h2v1h-2zM524 396h1v1h-1zM522 397h2v1h-2zM520 398h2v1h-2zM519 399h1v1h-1zM517 400h2v1h-2zM515 401h2v1h-2zM514 402h1v1h-1zM512 403h2v1h-2zM510 404h2v1h-2zM509 405h1v1h-1zM507 406h2v1h-2zM505 407h2v1h-2zM504 408h1v1h-1zM502 409h2v1h-2zM501 410h1v1h-1zM500 411h1v1h-1zM498 412h2v1h-2zM497 413h1v1h-1zM495 414h2v1h-2zM494 415h1v1h-1zM492 416h2v1h-2zM491 417h1v1h-1zM490 418h1v1h-1zM488 419h2v1h-2zM487 420h1v1h-1zM485 421h2v1h-2zM484 422h1v1h-1zM483 423h1v1h-1zM481 424h2v1h-2zM480 425h1v1h-1zM478 426h2v1h-2zM477 427h1v1h-1zM476 428h1v1h-1zM474 429h2v1h-2zM473 430h1v1h-1zM471 431h2v1h-2zM470 432h1v1h-1zM468 433h2v1h-2zM467 434h1v1h-1zM466 435h1v1h-1zM464 436h2v1h-2zM463 437h1v1h-1zM461 438h2v1h-2zM460 439h1v1h-1zM458 440h2v1h-2zM456 441h2v1h-2zM455 442h1v1h-1zM453 443h2v1h-2zM452 444h1v1h-1zM450 445h2v1h-2zM449 446h1v1h-1zM447 447h2v1h-2zM445 448h2v1h-2zM444 449h1v1h-1zM442 450h2v1h-2zM441 451h1v1h-1zM439 452h2v1h-2zM437 453h2v1h-2zM436 454h1v1h-1zM434 455h2v1h-2zM433 456h1v1h-1zM431 457h2v1h-2zM430 458h1v1h-1zM428 459h2v1h-2zM426 460h2v1h-2zM425 461h1v1h-1zM423 462h2v1h-2zM421 463h2v1h-2zM419 464h2v1h-2zM417 465h2v1h-2zM415 466h2v1h-2zM413 467h2v1h-2zM411 468h2v1h-2zM409 469h2v1h-2zM407 470h2v1h-2zM405 471h2v1h-2zM403 472h2v1h-2zM401 473h2v1h-2zM399 474h2v1h-2zM397 475h2v1h-2zM395 476h2v1h-2zM393 477h2v1h-2zM391 478h2v1h-2zM389 479h2v1h-2zM387 480h2v1h-2zM385 481h2v1h-2zM383 482h2v1h-2zM380 483h3v1h-3zM377 484h3v1h-3zM374 485h3v1h-3zM371 486h3v1h-3zM368 487h3v1h-3zM365 488h3v1h-3zM362 489h3v1h-3zM360 490h2v1h-2zM357 491h3v1h-3zM354 492h3v1h-3zM351 493h3v1h-3zM348 494h3v1h-3zM345 495h3v1h-3zM342 496h3v1h-3zM339 497h3v1h-3zM335 498h4v1h-4zM331 499h4v1h-4zM327 500h4v1h-4zM323 501h4v1h-4zM319 502h4v1h-4zM316 503h3v1h-3zM312 504h4v1h-4zM308 505h4v1h-4zM304 506h4v1h-4zM300 507h4v1h-4zM298 508h2v1h-2zM296 509h2v1h-2zM295 510h1v1h-1zM293 511h2v1h-2zM292 512h1v1h-1zM290 513h2v1h-2zM289 514h1v1h-1zM287 515h2v1h-2zM286 516h1v1h-1zM284 517h2v1h-2zM283 518h1v1h-1zM281 519h2v1h-2zM280 520h1v1h-1zM278 521h2v1h-2zM276 522h2v1h-2zM275 523h1v1h-1zM273 524h2v1h-2zM272 525h1v1h-1zM270 526h2v1h-2zM269 527h1v1h-1zM267 528h2v1h-2zM266 529h1v1h-1zM264 530h2v1h-2zM263 531h1v1h-1zM261 532h2v1h-2zM260 533h1v1h-1zM258 534h2v1h-2zM257 535h1v1h-1z"/>
<path fill="#00ffff" shape-rendering="crispEdges" d="M257 533 258 533 258 534 260 534 260 536 261 536 261 537 260 537 260 539 258 539 258 540 257 540 257 539 255 539 255 537 254 537 254 536 255 536 255 534 257 534ZM298 506 299 506 299 507 301 507 301 509 302 509 302 510 301 510 301 512 299 512 299 513 298 513 298 512 296 512 296 510 295 510 295 509 296 509 296 507 298 507ZM340 495 341 495 341 496 343 496 343 498 344 498 344 499 343 499 343 501 341 501 341 502 340 502 340 501 338 501 338 499 337 499 337 498 338 498 338 496 340 496ZM381 481 382 481 382 482 384 482 384 484 385 484 385 485 384 485 384 487 382 487 382 488 381 488 381 487 379 487 379 485 378 485 378 484 379 484 379 482 381 482ZM422 461 423 461 423 462 425 462 425 464 426 464 426 465 425 465 425 467 423 467 423 468 422 468 422 467 420 467 420 465 419 465 419 464 420 464 420 462 422 462ZM463 435 464 435 464 436 466 436 466 438 467 438 467 439 466 439 466 441 464 441 464 442 463 442 463 441 461 441 461 439 460 439 460 438 461 438 461 436 463 436ZM504 406 505 406 505 407 507 407 507 409 508 409 508 410 507 410 507 412 505 412 505 413 504 413 504 412 502 412 502 410 501 410 501 409 502 409 502 407 504 407ZM546 381 547 381 547 382 549 382 549 384 550 384 550 385 549 385 549 387 547 387 547 388 546 388 546 387 544 387 544 385 543 385 543 384 544 384 544 382 546 382ZM587 361 588 361 588 362 590 362 590 364 591 364 591 365 590 365 590 367 588 367 588 368 587 368 587 367 585 367 585 365 584 365 584 364 585 364 585 362 587 362ZM628 334 629 334 629 335 631 335 631 337 632 337 632 338 631 338 631 340 629 340 629 341 628 341 628 340 626 340 626 338 625 338 625 337 626 337 626 335 628 335ZM669 313 670 313 670 314 672 314 672 316 673 316 673 317 672 317 672 319 670 319 670 320 669 320 669 319 667 319 667 317 666 317 666 316 667 316 667 314 669 314ZM710 278 711 278 711 279 713 279 713 281 714 281 714 282 713 282 713 284 711 284 711 285 710 285 710 284 708 284 708 282 707 282 707 281 708 281 708 279 710 279ZM752 238 753 238 753 239 755 239 755 241 756 241 756 242 755 242 755 244 753 244 753 245 752 245 752 244 750 244 750 242 749 242 749 241 750 241 750 239 752 239ZM793 222 794 222 794 223 796 223 796 225 797 225 797 226 796 226 796 228 794 228 794 229 793 229 793 228 791 228 791 226 790 226 790 225 791 225 791 223 793 223ZM834 222 835 222 835 223 837 223 837 225 838 225 838 226 837 226 837 228 835 228 835 229 834 229 834 228 832 228 832 226 831 226 831 225 832 225 832 223 834 223ZM875 186 876 186 876 187 878 187 878 189 879 189 879 190 878 190 878 192 876 192 876 193 875 193 875 192 873 192 873 190 872 190 872 189 873 189 873 187 875 187ZM917 186 918 186 918 187 920 187 920 189 921 189 921 190 920 190 920 192 918 192 918 193 917 193 917 192 915 192 915 190 914 190 914 189 915 189 915 187 917 187ZM958 90 959 90 959 91 961 91 961 93 962 93 962 94 961 94 961 96 959 96 959 97 958 97 958 96 956 96 956 94 955 94 955 93 956 93 956 91 958 91Z"/>
<path fill="#ffb400" shape-rendering="crispEdges" d="M958 104h1v1h-1zM958 105h1v1h-1zM957 106h1v1h-1zM957 107h1v1h-1zM956 108h1v1h-1zM956 109h1v1h-1zM955 110h1v1h-1zM955 111h1v1h-1zM955 112h1v1h-1zM954 113h1v1h-1zM954 114h1v1h-1zM953 115h1v1h-1zM953 116h1v1h-1zM953 117h1v1h-1zM952 118h1v1h-1zM952 119h1v1h-1zM951 120h1v1h-1zM951 121h1v1h-1zM950 122h1v1h-1zM950 123h1v1h-1zM950 124h1v1h-1zM949 125h1v1h-1zM949 126h1v1h-1zM948 127h1v1h-1zM948 128h1v1h-1zM947 129h1v1h-1zM947 130h1v1h-1zM947 131h1v1h-1zM946 132h1v1h-1zM946 133h1v1h-1zM945 134h1v1h-1zM945 135h1v1h-1zM944 136h1v1h-1zM944 137h1v1h-1zM944 138h1v1h-1zM943 139h1v1h-1zM943 140h1v1h-1zM942 141h1v1h-1zM942 142h1v1h-1zM942 143h1v1h-1zM941 144h1v1h-1zM941 145h1v1h-1zM940 146h1v1h-1zM940 147h1v1h-1zM939 148h1v1h-1zM939 149h1v1h-1zM939 150h1v1h-1zM938 151h1v1h-1zM938 152h1v1h-1zM937 153h1v1h-1zM937 154h1v1h-1zM936 155h1v1h-1zM936 156h1v1h-1zM936 157h1v1h-1zM935 158h1v1h-1zM935 159h1v1h-1zM934 160h1v1h-1zM934 161h1v1h-1zM933 162h1v1h-1zM933 163h1v1h-1zM933 164h1v1h-1zM932 165h1v1h-1zM932 166h1v1h-1zM931 167h1v1h-1zM931 168h1v1h-1zM931 169h1v1h-1zM930 170h1v1h-1zM930 171h1v1h-1zM929 172h1v1h-1zM929 173h1v1h-1zM928 174h1v1h-1zM928 175h1v1h-1zM928 176h1v1h-1zM927 177h1v1h-1zM927 178h1v1h-1zM926 179h1v1h-1zM926 180h1v1h-1zM925 181h1v1h-1zM925 182h1v1h-1zM925 183h1v1h-1zM924 184h1v1h-1zM924 185h1v1h-1zM923 186h1v1h-1zM923 187h1v1h-1zM922 188h1v1h-1zM922 189h1v1h-1zM922 190h1v1h-1zM921 191h1v1h-1zM921 192h1v1h-1zM920 193h1v1h-1zM920 194h1v1h-1zM920 195h1v1h-1zM919 196h1v1h-1zM919 197h1v1h-1zM918 198h1v1h-1zM918 199h1v1h-1zM917 200h1v1h-1zM875 201h43v1h-43zM874 202h1v1h-1zM872 203h2v1h-2zM871 204h1v1h-1zM870 205h1v1h-1zM869 206h1v1h-1zM867 207h2v1h-2zM866 208h1v1h-1zM865 209h1v1h-1zM864 210h1v1h-1zM862 211h2v1h-2zM861 212h1v1h-1zM860 213h1v1h-1zM859 214h1v1h-1zM857 215h2v1h-2zM856 216h1v1h-1zM855 217h1v1h-1zM854 218h1v1h-1zM853 219h1v1h-1zM851 220h2v1h-2zM850 221h1v1h-1zM849 222h1v1h-1zM848 223h1v1h-1zM846 224h2v1h-2zM845 225h1v1h-1zM844 226h1v1h-1zM843 227h1v1h-1zM841 228h2v1h-2zM840 229h1v1h-1zM839 230h1v1h-1zM838 231h1v1h-1zM836 232h2v1h-2zM835 233h1v1h-1zM832 234h3v1h-3zM826 235h6v1h-6zM820 236h6v1h-6zM814 237h6v1h-6zM808 238h6v1h-6zM802 239h6v1h-6zM796 240h6v1h-6zM792 241h4v1h-4zM790 242h2v1h-2zM788 243h2v1h-2zM786 244h2v1h-2zM784 245h2v1h-2zM782 246h2v1h-2zM779 247h3v1h-3zM777 248h2v1h-2zM775 249h2v1h-2zM773 250h2v1h-2zM771 251h2v1h-2zM769 252h2v1h-2zM767 253h2v1h-2zM764 254h3v1h-3zM762 255h2v1h-2zM760 256h2v1h-2zM758 257h2v1h-2zM756 258h2v1h-2zM754 259h2v1h-2zM752 260h2v1h-2zM751 261h1v1h-1zM749 262h2v1h-2zM748 263h1v1h-1zM747 264h1v1h-1zM746 265h1v1h-1zM745 266h1v1h-1zM743 267h2v1h-2zM742 268h1v1h-1zM741 269h1v1h-1zM740 270h1v1h-1zM739 271h1v1h-1zM737 272h2v1h-2zM736 273h1v1h-1zM735 274h1v1h-1zM734 275h1v1h-1zM733 276h1v1h-1zM731 277h2v1h-2zM730 278h1v1h-1zM729 279h1v1h-1zM728 280h1v1h-1zM727 281h1v1h-1zM725 282h2v1h-2zM724 283h1v1h-1zM723 284h1v1h-1zM722 285h1v1h-1zM721 286h1v1h-1zM719 287h2v1h-2zM718 288h1v1h-1zM717 289h1v1h-1zM716 290h1v1h-1zM715 291h1v1h-1zM713 292h2v1h-2zM712 293h1v1h-1zM711 294h1v1h-1zM710 295h1v1h-1zM709 296h1v1h-1zM707 297h2v1h-2zM706 298h1v1h-1zM705 299h1v1h-1zM704 300h1v1h-1zM702 301h2v1h-2zM701 302h1v1h-1zM700 303h1v1h-1zM699 304h1v1h-1zM697 305h2v1h-2zM696 306h1v1h-1zM695 307h1v1h-1zM694 308h1v1h-1zM692 309h2v1h-2zM691 310h1v1h-1zM690 311h1v1h-1zM689 312h1v1h-1zM688 313h1v1h-1zM686 314h2v1h-2zM685 315h1v1h-1zM684 316h1v1h-1zM683 317h1v1h-1zM681 318h2v1h-2zM680 319h1v1h-1zM679 320h1v1h-1zM678 321h1v1h-1zM676 322h2v1h-2zM675 323h1v1h-1zM674 324h1v1h-1zM673 325h1v1h-1zM671 326h2v1h-2zM670 327h1v1h-1zM669 328h1v1h-1zM667 329h2v1h-2zM665 330h2v1h-2zM664 331h1v1h-1zM662 332h2v1h-2zM660 333h2v1h-2zM659 334h1v1h-1zM657 335h2v1h-2zM656 336h1v1h-1zM654 337h2v1h-2zM652 338h2v1h-2zM651 339h1v1h-1zM649 340h2v1h-2zM647 341h2v1h-2zM646 342h1v1h-1zM644 343h2v1h-2zM642 344h2v1h-2zM641 345h1v1h-1zM639 346h2v1h-2zM638 347h1v1h-1zM636 348h2v1h-2zM634 349h2v1h-2zM633 350h1v1h-1zM631 351h2v1h-2zM629 352h2v1h-2zM627 353h2v1h-2zM625 354h2v1h-2zM623 355h2v1h-2zM621 356h2v1h-2zM619 357h2v1h-2zM617 358h2v1h-2zM614 359h3v1h-3zM612 360h2v1h-2zM610 361h2v1h-2zM608 362h2v1h-2zM606 363h2v1h-2zM604 364h2v1h-2zM602 365h2v1h-2zM599 366h3v1h-3zM597 367h2v1h-2zM595 368h2v1h-2zM593 369h2v1h-2zM591 370h2v1h-2zM589 371h2v1h-2zM587 372h2v1h-2zM585 373h2v1h-2zM583 374h2v1h-2zM581 375h2v1h-2zM579 376h2v1h-2zM577 377h2v1h-2zM575 378h2v1h-2zM573 379h2v1h-2zM571 380h2v1h-2zM569 381h2v1h-2zM567 382h2v1h-2zM565 383h2v1h-2zM563 384h2v1h-2zM561 385h2v1h-2zM559 386h2v1h-2zM557 387h2v1h-2zM555 388h2v1h-2zM553 389h2v1h-2zM551 390h2v1h-2zM549 391h2v1h-2zM547 392h2v1h-2zM545 393h2v1h-2zM543 394h2v1h-2zM541 395h2v1h-2zM539 396h2v1h-2zM537 397h2v1h-2zM534 398h3v1h-3zM532 399h2v1h-2zM530 400h2v1h-2zM528 401h2v1h-2zM525 402h3v1h-3zM523 403h2v1h-2zM521 404h2v1h-2zM519 405h2v1h-2zM517 406h2v1h-2zM514 407h3v1h-3zM512 408h2v1h-2zM510 409h2v1h-2zM508 410h2v1h-2zM506 411h2v1h-2zM504 412h2v1h-2zM502 413h2v1h-2zM501 414h1v1h-1zM499 415h2v1h-2zM497 416h2v1h-2zM496 417h1v1h-1zM494 418h2v1h-2zM493 419h1v1h-1zM491 420h2v1h-2zM490 421h1v1h-1zM488 422h2v1h-2zM486 423h2v1h-2zM485 424h1v1h-1zM483 425h2v1h-2zM482 426h1v1h-1zM480 427h2v1h-2zM478 428h2v1h-2zM477 429h1v1h-1zM475 430h2v1h-2zM474 431h1v1h-1zM472 432h2v1h-2zM471 433h1v1h-1zM469 434h2v1h-2zM467 435h2v1h-2zM466 436h1v1h-1zM464 437h2v1h-2zM463 438h1v1h-1zM461 439h2v1h-2zM459 440h2v1h-2zM458 441h1v1h-1zM456 442h2v1h-2zM454 443h2v1h-2zM452 444h2v1h-2zM451 445h1v1h-1zM449 446h2v1h-2zM447 447h2v1h-2zM446 448h1v1h-1zM444 449h2v1h-2zM442 450h2v1h-2zM440 451h2v1h-2zM439 452h1v1h-1zM437 453h2v1h-2zM435 454h2v1h-2zM434 455h1v1h-1zM432 456h2v1h-2zM430 457h2v1h-2zM428 458h2v1h-2zM427 459h1v1h-1zM425 460h2v1h-2zM423 461h2v1h-2zM421 462h2v1h-2zM419 463h2v1h-2zM417 464h2v1h-2zM415 465h2v1h-2zM413 466h2v1h-2zM411 467h2v1h-2zM408 468h3v1h-3zM406 469h2v1h-2zM404 470h2v1h-2zM402 471h2v1h-2zM400 472h2v1h-2zM398 473h2v1h-2zM396 474h2v1h-2zM393 475h3v1h-3zM391 476h2v1h-2zM389 477h2v1h-2zM387 478h2v1h-2zM385 479h2v1h-2zM383 480h2v1h-2zM380 481h3v1h-3zM377 482h3v1h-3zM374 483h3v1h-3zM370 484h4v1h-4zM367 485h3v1h-3zM364 486h3v1h-3zM361 487h3v1h-3zM358 488h3v1h-3zM355 489h3v1h-3zM352 490h3v1h-3zM348 491h4v1h-4zM345 492h3v1h-3zM342 493h3v1h-3zM339 494h3v1h-3zM335 495h4v1h-4zM331 496h4v1h-4zM327 497h4v1h-4zM323 498h4v1h-4zM319 499h4v1h-4zM316 500h3v1h-3zM312 501h4v1h-4zM308 502h4v1h-4zM304 503h4v1h-4zM300 504h4v1h-4zM298 505h2v1h-2zM297 506h1v1h-1zM295 507h2v1h-2zM294 508h1v1h-1zM293 509h1v1h-1zM291 510h2v1h-2zM290 511h1v1h-1zM289 512h1v1h-1zM288 513h1v1h-1zM286 514h2v1h-2zM285 515h1v1h-1zM284 516h1v1h-1zM282 517h2v1h-2zM281 518h1v1h-1zM280 519h1v1h-1zM279 520h1v1h-1zM277 521h2v1h-2zM276 522h1v1h-1zM275 523h1v1h-1zM274 524h1v1h-1zM272 525h2v1h-2zM271 526h1v1h-1zM270 527h1v1h-1zM268 528h2v1h-2zM267 529h1v1h-1zM266 530h1v1h-1zM265 531h1v1h-1zM263 532h2v1h-2zM262 533h1v1h-1zM261 534h1v1h-1zM259 535h2v1h-2zM258 536h1v1h-1zM257 537h1v1h-1z"/>
<path fill="#ffb400" shape-rendering="crispEdges" d="M257 535 258 535 258 536 260 536 260 538 261 538 261 539 260 539 260 541 258 541 258 542 257 542 257 541 255 541 255 539 254 539 254 538 255 538 255 536 257 536ZM298 503 299 503 299 504 301 504 301 506 302 506 302 507 301 507 301 509 299 509 299 510 298 510 298 509 296 509 296 507 295 507 295 506 296 506 296 504 298 504ZM340 492 341 492 341 493 343 493 343 495 344 495 344 496 343 496 343 498 341 498 341 499 340 499 340 498 338 498 338 496 337 496 337 495 338 495 338 493 340 493ZM381 479 382 479 382 480 384 480 384 482 385 482 385 483 384 483 384 485 382 485 382 486 381 486 381 485 379 485 379 483 378 483 378 482 379 482 379 480 381 480ZM422 460 423 460 423 461 425 461 425 463 426 463 426 464 425 464 425 466 423 466 423 467 422 467 422 466 420 466 420 464 419 464 419 463 420 463 420 461 422 461ZM463 436 464 436 464 437 466 437 466 439 467 439 467 440 466 440 466 442 464 442 464 443 463 443 463 442 461 442 461 440 460 440 460 439 461 439 461 437 463 437ZM504 410 505 410 505 411 507 411 507 413 508 413 508 414 507 414 507 416 505 416 505 417 504 417 504 416 502 416 502 414 501 414 501 413 502 413 502 411 504 411ZM546 391 547 391 547 392 549 392 549 394 550 394 550 395 549 395 549 397 547 397 547 398 546 398 546 397 544 397 544 395 543 395 543 394 544 394 544 392 546 392ZM587 370 588 370 588 371 590 371 590 373 591 373 591 374 590 374 590 376 588 376 588 377 587 377 587 376 585 376 585 374 584 374 584 373 585 373 585 371 587 371ZM628 351 629 351 629 352 631 352 631 354 632 354 632 355 631 355 631 357 629 357 629 358 628 358 628 357 626 357 626 355 625 355 625 354 626 354 626 352 628 352ZM669 326 670 326 670 327 672 327 672 329 673 329 673 330 672 330 672 332 670 332 670 333 669 333 669 332 667 332 667 330 666 330 666 329 667 329 667 327 669 327ZM710 293 711 293 711 294 713 294 713 296 714 296 714 297 713 297 713 299 711 299 711 300 710 300 710 299 708 299 708 297 707 297 707 296 708 296 708 294 710 294ZM752 258 753 258 753 259 755 259 755 261 756 261 756 262 755 262 755 264 753 264 753 265 752 265 752 264 750 264 750 262 749 262 749 261 750 261 750 259 752 259ZM793 239 794 239 794 240 796 240 796 242 797 242 797 243 796 243 796 245 794 245 794 246 793 246 793 245 791 245 791 243 790 243 790 242 791 242 791 240 793 240ZM834 232 835 232 835 233 837 233 837 235 838 235 838 236 837 236 837 238 835 238 835 239 834 239 834 238 832 238 832 236 831 236 831 235 832 235 832 233 834 233ZM875 199 876 199 876 200 878 200 878 202 879 202 879 203 878 203 878 205 876 205 876 206 875 206 875 205 873 205 873 203 872 203 872 202 873 202 873 200 875 200ZM917 199 918 199 918 200 920 200 920 202 921 202 921 203 920 203 920 205 918 205 918 206 917 206 917 205 915 205 915 203 914 203 914 202 915 202 915 200 917 200ZM958 102 959 102 959 103 961 103 961 105 962 105 962 106 961 106 961 108 959 108 959 109 958 109 958 108 956 108 956 106 955 106 955 105 956 105 956 103 958 103Z"/>
<g><text class="dl" x="78.0" y="515" textLength="25" lengthAdjust="spacingAndGlyphs">76315</text><text class="dl" x="119.0" y="515" textLength="25" lengthAdjust="spacingAndGlyphs">76315</text><text class="dl" x="161.0" y="537" textLength="25" lengthAdjust="spacingAndGlyphs">74498</text><text class="dl" x="202.0" y="537" textLength="25" lengthAdjust="spacingAndGlyphs">74498</text><text class="dl" x="243.0" y="502" textLength="25" lengthAdjust="spacingAndGlyphs">77441</text><text class="dl" x="284.0" y="477" textLength="25" lengthAdjust="spacingAndGlyphs">79620</text><text class="dl" x="326.0" y="465" textLength="25" lengthAdjust="spacingAndGlyphs">80575</text><text class="dl" x="367.0" y="457" textLength="25" lengthAdjust="spacingAndGlyphs">81302</text><text class="dl" x="408.0" y="401" textLength="25" lengthAdjust="spacingAndGlyphs">86034</text><text class="dl" x="449.0" y="377" textLength="25" lengthAdjust="spacingAndGlyphs">88113</text><text class="dl" x="490.0" y="349" textLength="25" lengthAdjust="spacingAndGlyphs">90572</text><text class="dl" x="532.0" y="325" textLength="25" lengthAdjust="spacingAndGlyphs">92623</text><text class="dl" x="573.0" y="302" textLength="25" lengthAdjust="spacingAndGlyphs">94560</text><text class="dl" x="614.0" y="275" textLength="25" lengthAdjust="spacingAndGlyphs">96834</text><text class="dl" x="655.0" y="241" textLength="25" lengthAdjust="spacingAndGlyphs">99726</text><text class="dl" x="695.0" y="205" textLength="30" lengthAdjust="spacingAndGlyphs">102807</text><text class="dl" x="737.0" y="192" textLength="30" lengthAdjust="spacingAndGlyphs">103897</text><text class="dl" x="778.0" y="177" textLength="30" lengthAdjust="spacingAndGlyphs">105144</text><text class="dl" x="819.0" y="155" textLength="30" lengthAdjust="spacingAndGlyphs">107037</text><text class="dl" x="860.0" y="155" textLength="30" lengthAdjust="spacingAndGlyphs">107037</text><text class="dl" x="902.0" y="59" textLength="30" lengthAdjust="spacingAndGlyphs">115237</text><text class="dl" x="943.0" y="19" textLength="30" lengthAdjust="spacingAndGlyphs">118694</text></g>
<g><text class="dl" x="78.0" y="512" textLength="25" lengthAdjust="spacingAndGlyphs">76618</text><text class="dl" x="119.0" y="512" textLength="25" lengthAdjust="spacingAndGlyphs">76618</text><text class="dl" x="161.0" y="512" textLength="25" lengthAdjust="spacingAndGlyphs">76618</text><text class="dl" x="202.0" y="485" textLength="25" lengthAdjust="spacingAndGlyphs">78916</text><text class="dl" x="243.0" y="485" textLength="25" lengthAdjust="spacingAndGlyphs">78916</text><text class="dl" x="284.0" y="451" textLength="25" lengthAdjust="spacingAndGlyphs">81805</text><text class="dl" x="326.0" y="440" textLength="25" lengthAdjust="spacingAndGlyphs">82786</text><text class="dl" x="367.0" y="440" textLength="25" lengthAdjust="spacingAndGlyphs">82786</text><text class="dl" x="408.0" y="419" textLength="25" lengthAdjust="spacingAndGlyphs">84574</text><text class="dl" x="449.0" y="377" textLength="25" lengthAdjust="spacingAndGlyphs">88118</text><text class="dl" x="490.0" y="348" textLength="25" lengthAdjust="spacingAndGlyphs">90577</text><text class="dl" x="532.0" y="324" textLength="25" lengthAdjust="spacingAndGlyphs">92621</text><text class="dl" x="573.0" y="299" textLength="25" lengthAdjust="spacingAndGlyphs">94759</text><text class="dl" x="614.0" y="277" textLength="25" lengthAdjust="spacingAndGlyphs">96646</text><text class="dl" x="655.0" y="250" textLength="25" lengthAdjust="spacingAndGlyphs">98919</text><text class="dl" x="695.0" y="213" textLength="30" lengthAdjust="spacingAndGlyphs">102084</text><text class="dl" x="737.0" y="175" textLength="30" lengthAdjust="spacingAndGlyphs">105351</text><text class="dl" x="778.0" y="158" textLength="30" lengthAdjust="spacingAndGlyphs">106826</text><text class="dl" x="819.0" y="158" textLength="30" lengthAdjust="spacingAndGlyphs">106826</text><text class="dl" x="860.0" y="123" textLength="30" lengthAdjust="spacingAndGlyphs">109817</text><text class="dl" x="902.0" y="123" textLength="30" lengthAdjust="spacingAndGlyphs">109817</text><text class="dl" x="943.0" y="21" textLength="30" lengthAdjust="spacingAndGlyphs">118446</text></g>
<g><text class="dl" x="78.0" y="551" textLength="25" lengthAdjust="spacingAndGlyphs">73321</text><text class="dl" x="119.0" y="551" textLength="25" lengthAdjust="spacingAndGlyphs">73321</text><text class="dl" x="161.0" y="551" textLength="25" lengthAdjust="spacingAndGlyphs">73321</text><text class="dl" x="202.0" y="551" textLength="25" lengthAdjust="spacingAndGlyphs">73321</text><text class="dl" x="243.0" y="547" textLength="25" lengthAdjust="spacingAndGlyphs">73621</text><text class="dl" x="284.0" y="547" textLength="25" lengthAdjust="spacingAndGlyphs">73621</text><text class="dl" x="326.0" y="538" textLength="25" lengthAdjust="spacingAndGlyphs">74411</text><text class="dl" x="367.0" y="520" textLength="25" lengthAdjust="spacingAndGlyphs">75886</text><text class="dl" x="408.0" y="503" textLength="25" lengthAdjust="spacingAndGlyphs">77391</text><text class="dl" x="449.0" y="485" textLength="25" lengthAdjust="spacingAndGlyphs">78926</text><text class="dl" x="490.0" y="457" textLength="25" lengthAdjust="spacingAndGlyphs">81275</text><text class="dl" x="532.0" y="429" textLength="25" lengthAdjust="spacingAndGlyphs">83694</text><text class="dl" x="573.0" y="402" textLength="25" lengthAdjust="spacingAndGlyphs">86020</text><text class="dl" x="614.0" y="374" textLength="25" lengthAdjust="spacingAndGlyphs">88399</text><text class="dl" x="655.0" y="341" textLength="25" lengthAdjust="spacingAndGlyphs">91205</text><text class="dl" x="696.0" y="292" textLength="25" lengthAdjust="spacingAndGlyphs">95338</text><text class="dl" x="738.0" y="247" textLength="25" lengthAdjust="spacingAndGlyphs">99244</text><text class="dl" x="778.0" y="218" textLength="30" lengthAdjust="spacingAndGlyphs">101719</text><text class="dl" x="819.0" y="218" textLength="30" lengthAdjust="spacingAndGlyphs">101719</text><text class="dl" x="860.0" y="185" textLength="30" lengthAdjust="spacingAndGlyphs">104536</text><text class="dl" x="902.0" y="185" textLength="30" lengthAdjust="spacingAndGlyphs">104536</text><text class="dl" x="943.0" y="72" textLength="30" lengthAdjust="spacingAndGlyphs">114135</text></g>
<g><text class="dl" x="78.0" y="526" textLength="25" lengthAdjust="spacingAndGlyphs">75406</text><text class="dl" x="119.0" y="526" textLength="25" lengthAdjust="spacingAndGlyphs">75406</text><text class="dl" x="161.0" y="558" textLength="25" lengthAdjust="spacingAndGlyphs">72661</text><text class="dl" x="202.0" y="558" textLength="25" lengthAdjust="spacingAndGlyphs">72661</text><text class="dl" x="243.0" y="532" textLength="25" lengthAdjust="spacingAndGlyphs">74869</text><text class="dl" x="284.0" y="505" textLength="25" lengthAdjust="spacingAndGlyphs">77207</text><text class="dl" x="326.0" y="494" textLength="25" lengthAdjust="spacingAndGlyphs">78152</text><text class="dl" x="367.0" y="480" textLength="25" lengthAdjust="spacingAndGlyphs">79300</text><text class="dl" x="408.0" y="460" textLength="25" lengthAdjust="spacingAndGlyphs">81052</text><text class="dl" x="449.0" y="441" textLength="25" lengthAdjust="spacingAndGlyphs">82659</text><text class="dl" x="490.0" y="422" textLength="25" lengthAdjust="spacingAndGlyphs">84309</text><text class="dl" x="532.0" y="400" textLength="25" lengthAdjust="spacingAndGlyphs">86164</text><text class="dl" x="573.0" y="377" textLength="25" lengthAdjust="spacingAndGlyphs">88148</text><text class="dl" x="614.0" y="356" textLength="25" lengthAdjust="spacingAndGlyphs">89905</text><text class="dl" x="655.0" y="331" textLength="25" lengthAdjust="spacingAndGlyphs">92018</text><text class="dl" x="696.0" y="297" textLength="25" lengthAdjust="spacingAndGlyphs">94963</text><text class="dl" x="738.0" y="261" textLength="25" lengthAdjust="spacingAndGlyphs">98002</text><text class="dl" x="779.0" y="245" textLength="25" lengthAdjust="spacingAndGlyphs">99374</text><text class="dl" x="820.0" y="245" textLength="25" lengthAdjust="spacingAndGlyphs">99374</text><text class="dl" x="860.0" y="190" textLength="30" lengthAdjust="spacingAndGlyphs">104046</text><text class="dl" x="902.0" y="190" textLength="30" lengthAdjust="spacingAndGlyphs">104046</text><text class="dl" x="943.0" y="117" textLength="30" lengthAdjust="spacingAndGlyphs">110331</text></g>
<g><text class="dl" x="243.0" y="498" textLength="25" lengthAdjust="spacingAndGlyphs">77765</text><text class="dl" x="284.0" y="465" textLength="25" lengthAdjust="spacingAndGlyphs">80617</text><text class="dl" x="326.0" y="454" textLength="25" lengthAdjust="spacingAndGlyphs">81584</text><text class="dl" x="367.0" y="486" textLength="25" lengthAdjust="spacingAndGlyphs">78865</text><text class="dl" x="408.0" y="468" textLength="25" lengthAdjust="spacingAndGlyphs">80363</text><text class="dl" x="449.0" y="445" textLength="25" lengthAdjust="spacingAndGlyphs">82352</text><text class="dl" x="490.0" y="418" textLength="25" lengthAdjust="spacingAndGlyphs">84596</text><text class="dl" x="532.0" y="400" textLength="25" lengthAdjust="spacingAndGlyphs">86201</text><text class="dl" x="573.0" y="378" textLength="25" lengthAdjust="spacingAndGlyphs">88013</text><text class="dl" x="614.0" y="359" textLength="25" lengthAdjust="spacingAndGlyphs">89698</text><text class="dl" x="655.0" y="337" textLength="25" lengthAdjust="spacingAndGlyphs">91565</text><text class="dl" x="696.0" y="305" textLength="25" lengthAdjust="spacingAndGlyphs">94270</text><text class="dl" x="738.0" y="270" textLength="25" lengthAdjust="spacingAndGlyphs">97267</text><text class="dl" x="860.0" y="221" textLength="30" lengthAdjust="spacingAndGlyphs">101411</text><text class="dl" x="902.0" y="221" textLength="30" lengthAdjust="spacingAndGlyphs">101411</text><text class="dl" x="943.0" y="126" textLength="30" lengthAdjust="spacingAndGlyphs">109521</text></g>
<g><text class="dl" x="243.0" y="531" textLength="25" lengthAdjust="spacingAndGlyphs">74981</text><text class="dl" x="284.0" y="504" textLength="25" lengthAdjust="spacingAndGlyphs">77294</text><text class="dl" x="326.0" y="493" textLength="25" lengthAdjust="spacingAndGlyphs">78262</text><text class="dl" x="367.0" y="479" textLength="25" lengthAdjust="spacingAndGlyphs">79381</text><text class="dl" x="408.0" y="459" textLength="25" lengthAdjust="spacingAndGlyphs">81109</text><text class="dl" x="449.0" y="433" textLength="25" lengthAdjust="spacingAndGlyphs">83321</text><text class="dl" x="490.0" y="404" textLength="25" lengthAdjust="spacingAndGlyphs">85779</text><text class="dl" x="532.0" y="379" textLength="25" lengthAdjust="spacingAndGlyphs">87924</text><text class="dl" x="573.0" y="359" textLength="25" lengthAdjust="spacingAndGlyphs">89682</text><text class="dl" x="614.0" y="332" textLength="25" lengthAdjust="spacingAndGlyphs">91924</text><text class="dl" x="655.0" y="311" textLength="25" lengthAdjust="spacingAndGlyphs">93763</text><text class="dl" x="696.0" y="276" textLength="25" lengthAdjust="spacingAndGlyphs">96726</text><text class="dl" x="737.0" y="236" textLength="30" lengthAdjust="spacingAndGlyphs">100121</text><text class="dl" x="778.0" y="220" textLength="30" lengthAdjust="spacingAndGlyphs">101519</text><text class="dl" x="819.0" y="220" textLength="30" lengthAdjust="spacingAndGlyphs">101519</text><text class="dl" x="860.0" y="184" textLength="30" lengthAdjust="spacingAndGlyphs">104578</text><text class="dl" x="902.0" y="184" textLength="30" lengthAdjust="spacingAndGlyphs">104578</text><text class="dl" x="943.0" y="88" textLength="30" lengthAdjust="spacingAndGlyphs">112808</text></g>
<g><text class="dl" x="243.0" y="533" textLength="25" lengthAdjust="spacingAndGlyphs">74804</text><text class="dl" x="284.0" y="501" textLength="25" lengthAdjust="spacingAndGlyphs">77507</text><text class="dl" x="326.0" y="490" textLength="25" lengthAdjust="spacingAndGlyphs">78457</text><text class="dl" x="367.0" y="477" textLength="25" lengthAdjust="spacingAndGlyphs">79604</text><text class="dl" x="408.0" y="458" textLength="25" lengthAdjust="spacingAndGlyphs">81172</text><text class="dl" x="449.0" y="434" textLength="25" lengthAdjust="spacingAndGlyphs">83221</text><text class="dl" x="490.0" y="408" textLength="25" lengthAdjust="spacingAndGlyphs">85468</text><text class="dl" x="532.0" y="389" textLength="25" lengthAdjust="spacingAndGlyphs">87092</text><text class="dl" x="573.0" y="368" textLength="25" lengthAdjust="spacingAndGlyphs">88921</text><text class="dl" x="614.0" y="349" textLength="25" lengthAdjust="spacingAndGlyphs">90522</text><text class="dl" x="655.0" y="324" textLength="25" lengthAdjust="spacingAndGlyphs">92649</text><text class="dl" x="696.0" y="291" textLength="25" lengthAdjust="spacingAndGlyphs">95438</text><text class="dl" x="738.0" y="256" textLength="25" lengthAdjust="spacingAndGlyphs">98415</text><text class="dl" x="778.0" y="237" textLength="30" lengthAdjust="spacingAndGlyphs">100084</text><text class="dl" x="819.0" y="230" textLength="30" lengthAdjust="spacingAndGlyphs">100684</text><text class="dl" x="860.0" y="197" textLength="30" lengthAdjust="spacingAndGlyphs">103503</text><text class="dl" x="902.0" y="197" textLength="30" lengthAdjust="spacingAndGlyphs">103503</text><text class="dl" x="943.0" y="100" textLength="30" lengthAdjust="spacingAndGlyphs">111728</text></g>
<g fill="#000080" shape-rendering="crispEdges">
<rect x="51" y="20" width="949" height="1"/>
<rect x="51" y="571" width="949" height="1"/>
<rect x="51" y="20" width="1" height="552"/>
<rect x="999" y="20" width="1" height="552"/>
<rect x="52" y="559" width="4" height="1"/>
<rect x="52" y="548" width="4" height="1"/>
<rect x="52" y="536" width="4" height="1"/>
<rect x="52" y="524" width="4" height="1"/>
<rect x="52" y="512" width="4" height="1"/>
<rect x="52" y="501" width="4" height="1"/>
<rect x="52" y="489" width="4" height="1"/>
<rect x="52" y="477" width="4" height="1"/>
<rect x="52" y="465" width="4" height="1"/>
<rect x="52" y="454" width="4" height="1"/>
<rect x="52" y="442" width="4" height="1"/>
<rect x="52" y="430" width="4" height="1"/>
<rect x="52" y="419" width="4" height="1"/>
<rect x="52" y="407" width="4" height="1"/>
<rect x="52" y="395" width="4" height="1"/>
<rect x="52" y="383" width="4" height="1"/>
<rect x="52" y="372" width="4" height="1"/>
<rect x="52" y="360" width="4" height="1"/>
<rect x="52" y="348" width="4" height="1"/>
<rect x="52" y="337" width="4" height="1"/>
<rect x="52" y="325" width="4" height="1"/>
<rect x="52" y="313" width="4" height="1"/>
<rect x="52" y="301" width="4" height="1"/>
<rect x="52" y="290" width="4" height="1"/>
<rect x="52" y="278" width="4" height="1"/>
<rect x="52" y="266" width="4" height="1"/>
<rect x="52" y="254" width="4" height="1"/>
<rect x="52" y="243" width="4" height="1"/>
<rect x="52" y="231" width="4" height="1"/>
<rect x="52" y="219" width="4" height="1"/>
<rect x="52" y="208" width="4" height="1"/>
<rect x="52" y="196" width="4" height="1"/>
<rect x="52" y="184" width="4" height="1"/>
<rect x="52" y="172" width="4" height="1"/>
<rect x="52" y="161" width="4" height="1"/>
<rect x="52" y="149" width="4" height="1"/>
<rect x="52" y="137" width="4" height="1"/>
<rect x="52" y="126" width="4" height="1"/>
<rect x="52" y="114" width="4" height="1"/>
<rect x="52" y="102" width="4" height="1"/>
<rect x="52" y="90" width="4" height="1"/>
<rect x="52" y="79" width="4" height="1"/>
<rect x="52" y="67" width="4" height="1"/>
<rect x="52" y="55" width="4" height="1"/>
<rect x="52" y="43" width="4" height="1"/>
<rect x="52" y="32" width="4" height="1"/>
<rect x="92" y="567" width="1" height="4"/>
<rect x="133" y="567" width="1" height="4"/>
<rect x="175" y="567" width="1" height="4"/>
<rect x="216" y="567" width="1" height="4"/>
<rect x="257" y="567" width="1" height="4"/>
<rect x="298" y="567" width="1" height="4"/>
<rect x="340" y="567" width="1" height="4"/>
<rect x="381" y="567" width="1" height="4"/>
<rect x="422" y="567" width="1" height="4"/>
<rect x="463" y="567" width="1" height="4"/>
<rect x="504" y="567" width="1" height="4"/>
<rect x="546" y="567" width="1" height="4"/>
<rect x="587" y="567" width="1" height="4"/>
<rect x="628" y="567" width="1" height="4"/>
<rect x="669" y="567" width="1" height="4"/>
<rect x="710" y="567" width="1" height="4"/>
<rect x="752" y="567" width="1" height="4"/>
<rect x="793" y="567" width="1" height="4"/>
<rect x="834" y="567" width="1" height="4"/>
<rect x="875" y="567" width="1" height="4"/>
<rect x="917" y="567" width="1" height="4"/>
<rect x="958" y="567" width="1" height="4"/>
</g>
<g><text class="tl" x="22.0" y="574" textLength="25" lengthAdjust="spacingAndGlyphs">72000</text><text class="tl" x="22.0" y="562" textLength="25" lengthAdjust="spacingAndGlyphs">73000</text><text class="tl" x="22.0" y="551" textLength="25" lengthAdjust="spacingAndGlyphs">74000</text><text class="tl" x="22.0" y="539" textLength="25" lengthAdjust="spacingAndGlyphs">75000</text><text class="tl" x="22.0" y="527" textLength="25" lengthAdjust="spacingAndGlyphs">76000</text><text class="tl" x="22.0" y="515" textLength="25" lengthAdjust="spacingAndGlyphs">77000</text><text class="tl" x="22.0" y="504" textLength="25" lengthAdjust="spacingAndGlyphs">78000</text><text class="tl" x="22.0" y="492" textLength="25" lengthAdjust="spacingAndGlyphs">79000</text><text class="tl" x="22.0" y="480" textLength="25" lengthAdjust="spacingAndGlyphs">80000</text><text class="tl" x="22.0" y="468" textLength="25" lengthAdjust="spacingAndGlyphs">81000</text><text class="tl" x="22.0" y="457" textLength="25" lengthAdjust="spacingAndGlyphs">82000</text><text class="tl" x="22.0" y="445" textLength="25" lengthAdjust="spacingAndGlyphs">83000</text><text class="tl" x="22.0" y="433" textLength="25" lengthAdjust="spacingAndGlyphs">84000</text><text class="tl" x="22.0" y="422" textLength="25" lengthAdjust="spacingAndGlyphs">85000</text><text class="tl" x="22.0" y="410" textLength="25" lengthAdjust="spacingAndGlyphs">86000</text><text class="tl" x="22.0" y="398" textLength="25" lengthAdjust="spacingAndGlyphs">87000</text><text class="tl" x="22.0" y="386" textLength="25" lengthAdjust="spacingAndGlyphs">88000</text><text class="tl" x="22.0" y="375" textLength="25" lengthAdjust="spacingAndGlyphs">89000</text><text class="tl" x="22.0" y="363" textLength="25" lengthAdjust="spacingAndGlyphs">90000</text><text class="tl" x="22.0" y="351" textLength="25" lengthAdjust="spacingAndGlyphs">91000</text><text class="tl" x="22.0" y="340" textLength="25" lengthAdjust="spacingAndGlyphs">92000</text><text class="tl" x="22.0" y="328" textLength="25" lengthAdjust="spacingAndGlyphs">93000</text><text class="tl" x="22.0" y="316" textLength="25" lengthAdjust="spacingAndGlyphs">94000</text><text class="tl" x="22.0" y="304" textLength="25" lengthAdjust="spacingAndGlyphs">95000</text><text class="tl" x="22.0" y="293" textLength="25" lengthAdjust="spacingAndGlyphs">96000</text><text class="tl" x="22.0" y="281" textLength="25" lengthAdjust="spacingAndGlyphs">97000</text><text class="tl" x="22.0" y="269" textLength="25" lengthAdjust="spacingAndGlyphs">98000</text><text class="tl" x="22.0" y="257" textLength="25" lengthAdjust="spacingAndGlyphs">99000</text><text class="tl" x="17.0" y="246" textLength="30" lengthAdjust="spacingAndGlyphs">100000</text><text class="tl" x="17.0" y="234" textLength="30" lengthAdjust="spacingAndGlyphs">101000</text><text class="tl" x="17.0" y="222" textLength="30" lengthAdjust="spacingAndGlyphs">102000</text><text class="tl" x="17.0" y="211" textLength="30" lengthAdjust="spacingAndGlyphs">103000</text><text class="tl" x="17.0" y="199" textLength="30" lengthAdjust="spacingAndGlyphs">104000</text><text class="tl" x="17.0" y="187" textLength="30" lengthAdjust="spacingAndGlyphs">105000</text><text class="tl" x="17.0" y="175" textLength="30" lengthAdjust="spacingAndGlyphs">106000</text><text class="tl" x="17.0" y="164" textLength="30" lengthAdjust="spacingAndGlyphs">107000</text><text class="tl" x="17.0" y="152" textLength="30" lengthAdjust="spacingAndGlyphs">108000</text><text class="tl" x="17.0" y="140" textLength="30" lengthAdjust="spacingAndGlyphs">109000</text><text class="tl" x="17.0" y="129" textLength="30" lengthAdjust="spacingAndGlyphs">110000</text><text class="tl" x="17.0" y="117" textLength="30" lengthAdjust="spacingAndGlyphs">111000</text><text class="tl" x="17.0" y="105" textLength="30" lengthAdjust="spacingAndGlyphs">112000</text><text class="tl" x="17.0" y="93" textLength="30" lengthAdjust="spacingAndGlyphs">113000</text><text class="tl" x="17.0" y="82" textLength="30" lengthAdjust="spacingAndGlyphs">114000</text><text class="tl" x="17.0" y="70" textLength="30" lengthAdjust="spacingAndGlyphs">115000</text><text class="tl" x="17.0" y="58" textLength="30" lengthAdjust="spacingAndGlyphs">116000</text><text class="tl" x="17.0" y="46" textLength="30" lengthAdjust="spacingAndGlyphs">117000</text><text class="tl" x="17.0" y="35" textLength="30" lengthAdjust="spacingAndGlyphs">118000</text><text class="tl" x="17.0" y="23" textLength="30" lengthAdjust="spacingAndGlyphs">119000</text><text class="tl" x="81.5" y="582" textLength="19.5" lengthAdjust="spacingAndGlyphs">2004</text><text class="tl" x="122.5" y="582" textLength="19.5" lengthAdjust="spacingAndGlyphs">2005</text><text class="tl" x="164.5" y="582" textLength="19.5" lengthAdjust="spacingAndGlyphs">2006</text><text class="tl" x="205.5" y="582" textLength="19.5" lengthAdjust="spacingAndGlyphs">2007</text><text class="tl" x="246.5" y="582" textLength="19.5" lengthAdjust="spacingAndGlyphs">2008</text><text class="tl" x="287.5" y="582" textLength="19.5" lengthAdjust="spacingAndGlyphs">2009</text><text class="tl" x="329.5" y="582" textLength="19.5" lengthAdjust="spacingAndGlyphs">2010</text><text class="tl" x="370.5" y="582" textLength="19.5" lengthAdjust="spacingAndGlyphs">2011</text><text class="tl" x="411.5" y="582" textLength="19.5" lengthAdjust="spacingAndGlyphs">2012</text><text class="tl" x="452.5" y="582" textLength="19.5" lengthAdjust="spacingAndGlyphs">2013</text><text class="tl" x="493.5" y="582" textLength="19.5" lengthAdjust="spacingAndGlyphs">2014</text><text class="tl" x="535.5" y="582" textLength="19.5" lengthAdjust="spacingAndGlyphs">2015</text><text class="tl" x="576.5" y="582" textLength="19.5" lengthAdjust="spacingAndGlyphs">2016</text><text class="tl" x="617.5" y="582" textLength="19.5" lengthAdjust="spacingAndGlyphs">2017</text><text class="tl" x="658.5" y="582" textLength="19.5" lengthAdjust="spacingAndGlyphs">2018</text><text class="tl" x="699.5" y="582" textLength="19.5" lengthAdjust="spacingAndGlyphs">2019</text><text class="tl" x="741.5" y="582" textLength="19.5" lengthAdjust="spacingAndGlyphs">2020</text><text class="tl" x="782.5" y="582" textLength="19.5" lengthAdjust="spacingAndGlyphs">2021</text><text class="tl" x="823.5" y="582" textLength="19.5" lengthAdjust="spacingAndGlyphs">2022</text><text class="tl" x="864.5" y="582" textLength="19.5" lengthAdjust="spacingAndGlyphs">2023</text><text class="tl" x="906.5" y="582" textLength="19.5" lengthAdjust="spacingAndGlyphs">2024</text><text class="tl" x="947.5" y="582" textLength="19.5" lengthAdjust="spacingAndGlyphs">2025</text></g>
<text x="361" y="13" font-family="'Liberation Mono', monospace" font-size="14.3" fill="#000080" fill-opacity="0.86" textLength="328" lengthAdjust="spacingAndGlyphs">Besoldungsvergleich Hamburg B 3 Endgehalt</text>
<text transform="translate(11 410) rotate(-90)" x="0" y="0" font-family="'Liberation Mono', monospace" font-size="11.6" fill="#000080" textLength="228" lengthAdjust="spacingAndGlyphs">Bruttojahresgehalt zum Stichtag 31.10.</text>
<g><rect x="105" y="594" width="13" height="2" fill="#ff0000" shape-rendering="crispEdges"/><path fill="#ff0000" shape-rendering="crispEdges" d="M111 592 112 592 112 593 114 593 114 595 115 595 115 596 114 596 114 598 112 598 112 599 111 599 111 598 109 598 109 596 108 596 108 595 109 595 109 593 111 593Z"/><text class="lg" x="120.0" y="598" textLength="20" lengthAdjust="spacingAndGlyphs">Bund</text><rect x="219" y="594" width="13" height="2" fill="#00ff00" shape-rendering="crispEdges"/><path fill="#00ff00" shape-rendering="crispEdges" d="M225 592 226 592 226 593 228 593 228 595 229 595 229 596 228 596 228 598 226 598 226 599 225 599 225 598 223 598 223 596 222 596 222 595 223 595 223 593 225 593Z"/><text class="lg" x="234.0" y="598" textLength="30" lengthAdjust="spacingAndGlyphs">Bayern</text><rect x="333" y="594" width="13" height="2" fill="#0000ff" shape-rendering="crispEdges"/><path fill="#0000ff" shape-rendering="crispEdges" d="M339 592 340 592 340 593 342 593 342 595 343 595 343 596 342 596 342 598 340 598 340 599 339 599 339 598 337 598 337 596 336 596 336 595 337 595 337 593 339 593Z"/><text class="lg" x="348.0" y="598" textLength="30" lengthAdjust="spacingAndGlyphs">Berlin</text><rect x="447" y="594" width="13" height="2" fill="#808000" shape-rendering="crispEdges"/><path fill="#808000" shape-rendering="crispEdges" d="M453 592 454 592 454 593 456 593 456 595 457 595 457 596 456 596 456 598 454 598 454 599 453 599 453 598 451 598 451 596 450 596 450 595 451 595 451 593 453 593Z"/><text class="lg" x="462.0" y="598" textLength="30" lengthAdjust="spacingAndGlyphs">Bremen</text><rect x="561" y="594" width="13" height="2" fill="#ff00ff" shape-rendering="crispEdges"/><path fill="#ff00ff" shape-rendering="crispEdges" d="M567 592 568 592 568 593 570 593 570 595 571 595 571 596 570 596 570 598 568 598 568 599 567 599 567 598 565 598 565 596 564 596 564 595 565 595 565 593 567 593Z"/><text class="lg" x="576.0" y="598" textLength="35" lengthAdjust="spacingAndGlyphs">Hamburg</text><rect x="675" y="594" width="13" height="2" fill="#00ffff" shape-rendering="crispEdges"/><path fill="#00ffff" shape-rendering="crispEdges" d="M681 592 682 592 682 593 684 593 684 595 685 595 685 596 684 596 684 598 682 598 682 599 681 599 681 598 679 598 679 596 678 596 678 595 679 595 679 593 681 593Z"/><text class="lg" x="690.0" y="598" textLength="65" lengthAdjust="spacingAndGlyphs">Niedersachsen</text><rect x="789" y="594" width="13" height="2" fill="#ffb400" shape-rendering="crispEdges"/><path fill="#ffb400" shape-rendering="crispEdges" d="M795 592 796 592 796 593 798 593 798 595 799 595 799 596 798 596 798 598 796 598 796 599 795 599 795 598 793 598 793 596 792 596 792 595 793 595 793 593 795 593Z"/><text class="lg" x="804.0" y="598" textLength="90" lengthAdjust="spacingAndGlyphs">Schleswig-Holstein</text></g>
</svg></body></html>
